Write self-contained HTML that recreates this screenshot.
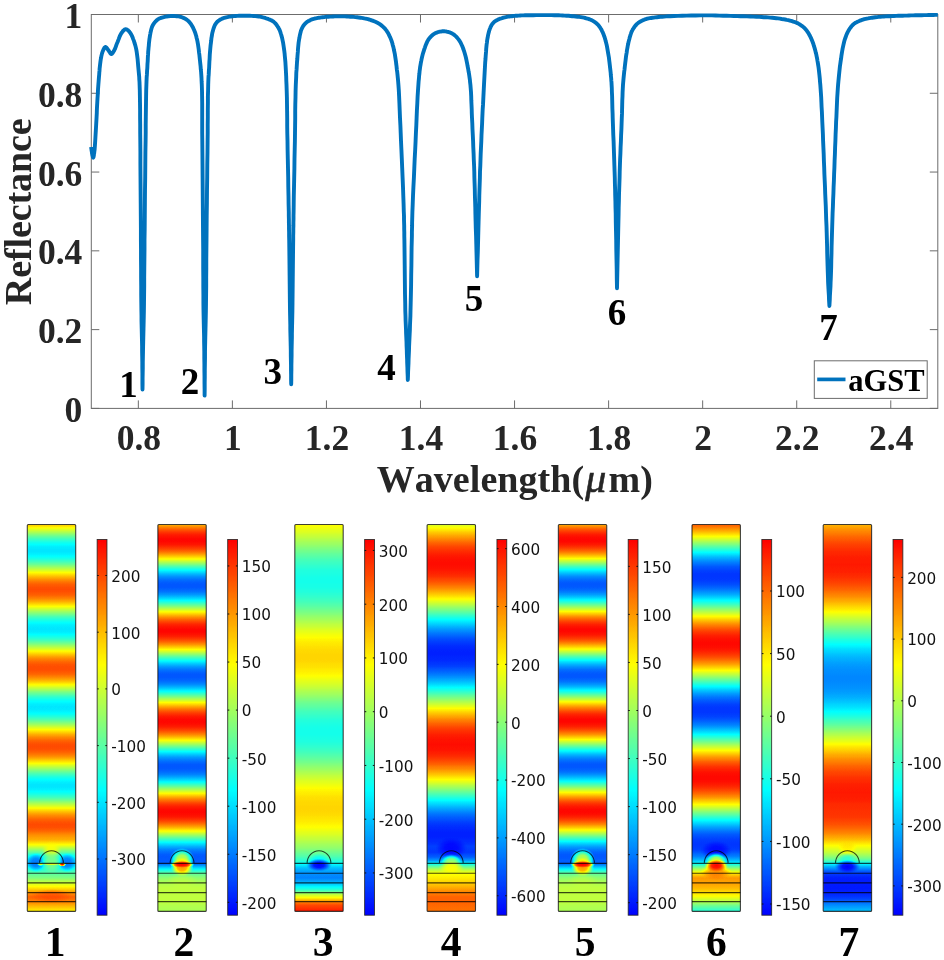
<!DOCTYPE html>
<html lang="en"><head><meta charset="utf-8"><title>Reflectance spectrum and field maps</title>
<style>
html,body{margin:0;padding:0;background:#fff;}
svg{display:block;}
text{font-family:"Liberation Serif","DejaVu Serif",serif;font-weight:bold;fill:#262626;}
.tk{font-size:35.5px;}
.lab{font-size:38px;font-kerning:none;}
.xl{letter-spacing:0.05px;}
.yl{letter-spacing:-0.1px;}
.num{font-size:37px;fill:#000;}
.pn{font-size:41.5px;fill:#000;}
.cb{font-family:"DejaVu Sans","Liberation Sans",sans-serif;font-weight:normal;font-size:15.25px;fill:#111;}
</style></head><body>
<svg width="944" height="960" viewBox="0 0 944 960">
<defs>
<filter id="jet" color-interpolation-filters="sRGB" x="-2%" y="-2%" width="104%" height="104%">
<feComponentTransfer>
<feFuncR type="table" tableValues="0 0 1 1"/>
<feFuncG type="table" tableValues="0 1 1 0"/>
<feFuncB type="table" tableValues="1 1 0 0"/>
</feComponentTransfer>
</filter>
<linearGradient id="cbg" x1="0" y1="0" x2="0" y2="1"><stop offset="0" stop-color="#fff"/><stop offset="1" stop-color="#000"/></linearGradient>
</defs>
<rect width="944" height="960" fill="#fff"/>
<g id="plot">
<path d="M138.33 408.40 v-8.0 M138.33 14.50 v8.0 M232.38 408.40 v-8.0 M232.38 14.50 v8.0 M326.44 408.40 v-8.0 M326.44 14.50 v8.0 M420.49 408.40 v-8.0 M420.49 14.50 v8.0 M514.55 408.40 v-8.0 M514.55 14.50 v8.0 M608.61 408.40 v-8.0 M608.61 14.50 v8.0 M702.66 408.40 v-8.0 M702.66 14.50 v8.0 M796.72 408.40 v-8.0 M796.72 14.50 v8.0 M890.77 408.40 v-8.0 M890.77 14.50 v8.0 M91.30 408.40 h8.0 M937.80 408.40 h-8.0 M91.30 329.62 h8.0 M937.80 329.62 h-8.0 M91.30 250.84 h8.0 M937.80 250.84 h-8.0 M91.30 172.06 h8.0 M937.80 172.06 h-8.0 M91.30 93.28 h8.0 M937.80 93.28 h-8.0 M91.30 14.50 h8.0 M937.80 14.50 h-8.0" stroke="#6c6c6c" stroke-width="1" fill="none"/>
<rect x="91.30" y="14.50" width="846.50" height="393.90" fill="none" stroke="#6c6c6c" stroke-width="1"/>
<text class="tk" x="138.83" y="449.9" text-anchor="middle">0.8</text>
<text class="tk" x="232.88" y="449.9" text-anchor="middle">1</text>
<text class="tk" x="326.94" y="449.9" text-anchor="middle">1.2</text>
<text class="tk" x="420.99" y="449.9" text-anchor="middle">1.4</text>
<text class="tk" x="515.05" y="449.9" text-anchor="middle">1.6</text>
<text class="tk" x="609.11" y="449.9" text-anchor="middle">1.8</text>
<text class="tk" x="703.16" y="449.9" text-anchor="middle">2</text>
<text class="tk" x="797.22" y="449.9" text-anchor="middle">2.2</text>
<text class="tk" x="891.27" y="449.9" text-anchor="middle">2.4</text>
<text class="tk" x="82.3" y="422.00" text-anchor="end">0</text>
<text class="tk" x="82.3" y="343.22" text-anchor="end">0.2</text>
<text class="tk" x="82.3" y="264.44" text-anchor="end">0.4</text>
<text class="tk" x="82.3" y="185.66" text-anchor="end">0.6</text>
<text class="tk" x="82.3" y="106.88" text-anchor="end">0.8</text>
<text class="tk" x="82.3" y="28.10" text-anchor="end">1</text>
<text class="lab xl" x="514.8" y="491.8" text-anchor="middle">Wavelength(<tspan font-style="italic" font-weight="normal" font-size="42" stroke="#262626" stroke-width="0.55" dx="1.2">μ</tspan><tspan dx="2">m)</tspan></text>
<text class="lab yl" transform="translate(30.8 211.8) rotate(-90)" text-anchor="middle">Reflectance</text>
<path d="M91.1 147.0 L91.2 147.9 L91.4 148.8 L91.5 149.7 L91.6 150.6 L91.8 151.5 L91.9 152.4 L92.0 153.2 L92.2 154.0 L92.3 154.6 L92.4 155.2 L92.6 155.8 L92.7 156.3 L92.8 156.8 L93.0 157.2 L93.1 157.5 L93.2 157.6 L93.3 157.5 L93.5 157.1 L93.6 156.5 L93.8 155.7 L93.9 154.9 L94.0 153.9 L94.2 153.0 L94.3 152.0 L94.6 149.8 L94.8 147.1 L95.0 144.2 L95.2 141.0 L95.4 137.6 L95.6 134.2 L95.8 130.8 L96.0 127.5 L96.2 123.9 L96.4 120.3 L96.6 116.6 L96.8 112.8 L96.9 109.1 L97.1 105.4 L97.3 101.8 L97.5 98.3 L97.7 95.4 L97.9 92.5 L98.0 89.7 L98.2 86.9 L98.4 84.2 L98.6 81.6 L98.8 79.0 L99.0 76.5 L99.2 74.5 L99.3 72.6 L99.5 70.7 L99.6 68.8 L99.8 67.0 L100.0 65.3 L100.2 63.6 L100.4 61.9 L100.6 60.5 L100.8 59.1 L101.1 57.7 L101.3 56.4 L101.6 55.1 L101.9 53.9 L102.2 52.8 L102.6 51.7 L102.9 50.9 L103.2 50.2 L103.6 49.4 L103.9 48.7 L104.3 48.0 L104.6 47.5 L105.0 47.2 L105.4 47.0 L105.8 47.1 L106.1 47.3 L106.5 47.7 L106.9 48.1 L107.3 48.7 L107.7 49.2 L108.0 49.7 L108.4 50.2 L108.8 50.7 L109.1 51.3 L109.5 51.9 L109.9 52.5 L110.2 53.1 L110.6 53.6 L110.9 53.9 L111.3 54.0 L111.7 53.9 L112.1 53.6 L112.4 53.2 L112.8 52.7 L113.2 52.1 L113.6 51.4 L114.0 50.8 L114.3 50.2 L114.7 49.4 L115.1 48.6 L115.4 47.7 L115.8 46.8 L116.1 45.8 L116.4 44.9 L116.8 43.9 L117.2 42.9 L117.7 41.7 L118.2 40.4 L118.7 39.1 L119.2 37.7 L119.7 36.4 L120.3 35.1 L120.9 34.0 L121.5 33.0 L122.0 32.3 L122.5 31.7 L123.0 31.0 L123.5 30.5 L124.1 30.0 L124.6 29.6 L125.2 29.3 L125.7 29.2 L126.2 29.3 L126.8 29.4 L127.3 29.8 L127.9 30.2 L128.4 30.7 L129.0 31.2 L129.5 31.9 L130.0 32.5 L130.8 33.8 L131.7 35.4 L132.5 37.1 L133.2 39.1 L134.0 41.1 L134.6 43.2 L135.3 45.4 L135.8 47.4 L136.3 49.6 L136.7 51.9 L137.0 54.2 L137.3 56.5 L137.6 58.9 L137.8 61.3 L138.0 63.7 L138.2 66.0 L138.4 68.3 L138.6 70.4 L138.8 72.6 L139.0 74.7 L139.2 76.9 L139.3 79.3 L139.5 81.9 L139.6 84.7 L139.8 90.2 L139.9 96.2 L140.0 102.8 L140.1 109.9 L140.1 117.3 L140.2 125.0 L140.2 132.8 L140.3 140.8 L140.4 152.0 L140.4 164.0 L140.5 176.7 L140.6 189.7 L140.7 202.8 L140.8 215.7 L140.9 228.2 L140.9 240.0 L141.0 249.6 L141.0 259.1 L141.1 268.5 L141.1 277.7 L141.2 286.6 L141.2 295.1 L141.3 303.2 L141.4 310.8 L141.5 315.8 L141.5 320.4 L141.6 324.8 L141.7 329.0 L141.8 333.2 L141.9 337.4 L142.0 341.7 L142.1 346.2 L142.1 351.4 L142.2 356.7 L142.3 362.1 L142.3 367.6 L142.4 373.1 L142.4 378.6 L142.4 384.1 L142.5 389.5 L142.6 384.1 L142.6 378.6 L142.7 373.1 L142.8 367.6 L142.8 362.1 L142.9 356.7 L143.0 351.4 L143.1 346.2 L143.2 341.7 L143.3 337.4 L143.4 333.2 L143.5 329.0 L143.6 324.8 L143.7 320.4 L143.8 315.8 L143.9 310.8 L144.0 303.2 L144.1 295.1 L144.2 286.6 L144.2 277.7 L144.3 268.5 L144.4 259.1 L144.5 249.6 L144.5 240.0 L144.7 228.2 L144.8 215.7 L144.9 202.8 L145.0 189.7 L145.2 176.7 L145.3 164.0 L145.4 152.0 L145.6 140.8 L145.7 132.8 L145.7 125.0 L145.8 117.3 L145.9 109.9 L146.0 102.8 L146.1 96.2 L146.2 90.2 L146.4 84.7 L146.5 81.9 L146.6 79.3 L146.7 76.9 L146.9 74.7 L147.0 72.6 L147.1 70.4 L147.3 68.3 L147.4 66.0 L147.5 63.7 L147.7 61.3 L147.8 58.9 L147.9 56.5 L148.1 54.2 L148.2 51.8 L148.4 49.6 L148.6 47.4 L148.8 45.6 L148.9 43.8 L149.1 42.0 L149.3 40.3 L149.5 38.6 L149.8 36.9 L150.0 35.3 L150.3 33.8 L150.5 32.6 L150.8 31.5 L151.0 30.4 L151.3 29.3 L151.6 28.2 L151.9 27.2 L152.3 26.2 L152.8 25.3 L153.3 24.4 L153.8 23.6 L154.4 22.8 L155.1 22.0 L155.7 21.3 L156.4 20.6 L157.1 20.0 L157.9 19.4 L158.7 18.9 L159.4 18.5 L160.3 18.2 L161.1 17.9 L162.0 17.6 L162.9 17.3 L163.8 17.1 L164.7 16.9 L165.7 16.7 L166.7 16.5 L167.8 16.3 L168.8 16.2 L169.9 16.1 L171.0 16.0 L172.0 16.0 L173.1 16.0 L174.2 16.0 L175.3 16.1 L176.3 16.2 L177.4 16.3 L178.5 16.4 L179.6 16.6 L180.6 16.9 L181.6 17.2 L182.5 17.5 L183.4 17.9 L184.3 18.3 L185.2 18.8 L186.1 19.3 L186.9 19.9 L187.7 20.4 L188.4 21.1 L189.2 21.9 L189.9 22.7 L190.6 23.6 L191.2 24.6 L191.8 25.6 L192.4 26.6 L193.0 27.6 L193.5 28.7 L194.0 29.8 L194.5 31.0 L195.0 32.2 L195.4 33.4 L195.8 34.7 L196.2 36.0 L196.5 37.4 L196.9 38.9 L197.4 41.2 L197.9 43.8 L198.3 46.5 L198.7 49.3 L199.0 52.2 L199.4 55.1 L199.7 58.0 L200.0 60.9 L200.3 63.8 L200.6 66.5 L200.8 69.3 L201.1 72.1 L201.3 75.0 L201.5 78.0 L201.6 81.2 L201.8 84.7 L202.0 90.5 L202.1 96.7 L202.2 103.3 L202.2 110.3 L202.2 117.6 L202.2 125.1 L202.2 132.9 L202.3 140.8 L202.4 152.0 L202.5 164.0 L202.6 176.7 L202.7 189.7 L202.8 202.8 L202.9 215.7 L203.0 228.2 L203.1 240.0 L203.2 249.6 L203.2 259.1 L203.2 268.5 L203.3 277.7 L203.3 286.6 L203.4 295.1 L203.4 303.2 L203.5 310.8 L203.6 315.8 L203.7 320.4 L203.8 324.7 L203.9 328.9 L204.0 333.0 L204.1 337.2 L204.1 341.6 L204.2 346.2 L204.3 352.0 L204.3 358.0 L204.4 364.1 L204.4 370.4 L204.5 376.7 L204.5 383.1 L204.6 389.4 L204.6 395.6 L204.7 389.4 L204.7 383.1 L204.8 376.7 L204.8 370.4 L204.9 364.1 L205.0 358.0 L205.0 352.0 L205.1 346.2 L205.2 341.6 L205.3 337.2 L205.4 333.0 L205.5 328.9 L205.6 324.7 L205.7 320.4 L205.8 315.8 L205.9 310.8 L206.0 303.2 L206.1 295.1 L206.2 286.6 L206.2 277.7 L206.3 268.5 L206.3 259.1 L206.4 249.6 L206.5 240.0 L206.6 228.2 L206.7 215.7 L206.9 202.8 L207.0 189.7 L207.2 176.7 L207.3 164.0 L207.5 152.0 L207.6 140.8 L207.7 132.8 L207.7 125.0 L207.8 117.3 L207.8 109.9 L207.9 102.8 L207.9 96.2 L208.1 90.2 L208.2 84.7 L208.3 81.9 L208.4 79.3 L208.5 76.9 L208.7 74.7 L208.8 72.6 L208.9 70.4 L209.1 68.3 L209.2 66.0 L209.3 63.7 L209.4 61.3 L209.6 59.0 L209.7 56.6 L209.8 54.3 L210.0 52.0 L210.2 49.7 L210.4 47.4 L210.6 45.2 L210.9 42.9 L211.2 40.6 L211.4 38.4 L211.8 36.2 L212.1 34.1 L212.5 32.2 L213.0 30.4 L213.3 29.3 L213.7 28.2 L214.0 27.2 L214.4 26.2 L214.8 25.3 L215.3 24.4 L215.8 23.6 L216.4 22.8 L217.0 22.1 L217.6 21.5 L218.3 20.9 L219.1 20.4 L219.8 19.9 L220.6 19.4 L221.5 19.0 L222.3 18.6 L223.2 18.2 L224.2 17.9 L225.2 17.6 L226.3 17.3 L227.4 17.1 L228.5 16.9 L229.6 16.7 L230.8 16.5 L232.3 16.3 L233.9 16.1 L235.6 16.0 L237.3 15.9 L239.1 15.8 L240.8 15.7 L242.6 15.7 L244.3 15.7 L246.1 15.7 L247.9 15.7 L249.8 15.8 L251.7 15.9 L253.5 16.0 L255.3 16.1 L257.0 16.3 L258.6 16.5 L259.8 16.7 L260.9 16.9 L262.0 17.1 L263.0 17.4 L264.0 17.6 L265.0 17.9 L266.0 18.3 L267.0 18.6 L267.9 18.9 L268.8 19.3 L269.7 19.6 L270.6 20.0 L271.4 20.4 L272.3 20.8 L273.0 21.3 L273.8 21.9 L274.6 22.6 L275.3 23.3 L276.0 24.1 L276.6 25.0 L277.2 25.8 L277.8 26.8 L278.4 27.7 L278.9 28.7 L279.5 29.8 L280.0 31.0 L280.4 32.2 L280.8 33.5 L281.2 34.7 L281.6 36.1 L282.0 37.5 L282.3 38.9 L282.7 40.8 L283.1 42.7 L283.4 44.7 L283.7 46.8 L284.0 48.9 L284.3 51.1 L284.6 53.4 L284.8 55.8 L285.1 59.0 L285.4 62.3 L285.6 65.6 L285.8 69.2 L286.0 72.8 L286.2 76.6 L286.3 80.6 L286.5 84.7 L286.7 90.8 L286.9 97.3 L287.0 104.1 L287.1 111.2 L287.2 118.5 L287.2 125.9 L287.3 133.3 L287.5 140.8 L287.6 149.5 L287.8 158.7 L288.0 168.2 L288.2 177.7 L288.3 187.1 L288.5 196.0 L288.6 204.3 L288.8 211.7 L288.8 215.8 L288.9 219.4 L288.9 222.7 L289.0 225.9 L289.0 229.0 L289.1 232.3 L289.1 235.9 L289.2 240.0 L289.3 247.5 L289.4 256.0 L289.5 265.3 L289.6 274.9 L289.7 284.6 L289.8 294.1 L289.9 302.9 L290.0 310.8 L290.1 315.8 L290.2 320.5 L290.3 324.9 L290.3 329.2 L290.4 333.4 L290.5 337.5 L290.6 341.8 L290.7 346.2 L290.8 350.9 L290.8 355.6 L290.9 360.4 L291.0 365.2 L291.0 370.0 L291.1 374.7 L291.1 379.5 L291.2 384.3 L291.3 379.5 L291.3 374.7 L291.4 370.0 L291.4 365.2 L291.5 360.4 L291.6 355.6 L291.6 350.9 L291.7 346.2 L291.8 341.8 L291.9 337.5 L291.9 333.4 L292.0 329.2 L292.1 324.9 L292.2 320.5 L292.3 315.8 L292.4 310.8 L292.5 302.9 L292.6 294.1 L292.7 284.6 L292.8 274.9 L292.9 265.3 L293.0 256.0 L293.1 247.5 L293.2 240.0 L293.2 235.9 L293.3 232.3 L293.3 229.0 L293.4 225.9 L293.4 222.7 L293.5 219.4 L293.5 215.8 L293.6 211.7 L293.7 204.3 L293.8 196.0 L294.0 187.1 L294.2 177.7 L294.4 168.2 L294.5 158.7 L294.7 149.5 L294.9 140.8 L295.0 133.3 L295.1 125.9 L295.2 118.5 L295.2 111.2 L295.3 104.1 L295.5 97.3 L295.6 90.8 L295.8 84.7 L296.0 80.6 L296.2 76.6 L296.3 72.8 L296.6 69.2 L296.8 65.7 L297.0 62.3 L297.3 59.0 L297.5 55.8 L297.7 53.4 L297.9 51.2 L298.0 48.9 L298.2 46.8 L298.4 44.7 L298.6 42.7 L298.9 40.8 L299.2 38.9 L299.5 37.5 L299.7 36.1 L300.0 34.7 L300.3 33.4 L300.6 32.2 L300.9 30.9 L301.3 29.8 L301.8 28.7 L302.2 27.8 L302.7 27.0 L303.1 26.2 L303.6 25.5 L304.2 24.7 L304.7 24.1 L305.4 23.4 L306.0 22.8 L306.7 22.2 L307.5 21.7 L308.3 21.1 L309.2 20.7 L310.1 20.2 L311.0 19.8 L311.9 19.4 L312.8 19.1 L313.8 18.8 L314.8 18.5 L315.8 18.3 L316.9 18.1 L317.9 17.9 L319.0 17.7 L320.2 17.6 L321.3 17.4 L322.7 17.2 L324.1 17.1 L325.5 16.9 L327.0 16.8 L328.5 16.7 L330.0 16.6 L331.6 16.6 L333.1 16.5 L334.8 16.4 L336.4 16.4 L338.1 16.4 L339.8 16.4 L341.6 16.4 L343.3 16.4 L345.0 16.4 L346.7 16.5 L348.4 16.6 L350.2 16.7 L351.9 16.8 L353.6 16.9 L355.4 17.1 L357.1 17.3 L358.7 17.5 L360.3 17.7 L361.6 17.9 L363.0 18.1 L364.3 18.4 L365.5 18.6 L366.8 18.9 L368.0 19.2 L369.2 19.5 L370.4 19.9 L371.5 20.3 L372.6 20.7 L373.7 21.1 L374.8 21.5 L375.9 22.0 L376.9 22.5 L377.9 23.0 L378.9 23.6 L379.8 24.2 L380.8 24.9 L381.7 25.6 L382.5 26.3 L383.4 27.1 L384.2 27.9 L385.0 28.7 L385.7 29.6 L386.5 30.6 L387.2 31.7 L387.9 32.8 L388.5 33.9 L389.1 35.1 L389.7 36.4 L390.3 37.6 L390.8 38.9 L391.4 40.4 L391.9 41.9 L392.4 43.5 L392.8 45.2 L393.3 46.9 L393.7 48.6 L394.0 50.3 L394.4 52.0 L394.8 53.9 L395.1 55.9 L395.4 57.9 L395.7 59.9 L396.0 61.9 L396.2 63.9 L396.5 66.0 L396.7 68.0 L396.9 70.0 L397.2 71.9 L397.4 73.8 L397.6 75.7 L397.8 77.7 L398.0 79.8 L398.2 82.1 L398.4 84.7 L398.8 90.1 L399.1 96.2 L399.4 103.0 L399.7 110.3 L400.0 117.8 L400.4 125.5 L400.7 133.2 L401.0 140.8 L401.4 149.5 L401.8 158.7 L402.2 168.2 L402.6 177.7 L403.0 187.1 L403.3 196.0 L403.6 204.3 L403.8 211.7 L404.0 215.8 L404.0 219.4 L404.1 222.7 L404.2 225.9 L404.2 229.0 L404.3 232.3 L404.3 235.9 L404.4 240.0 L404.5 247.5 L404.6 256.0 L404.7 265.3 L404.8 274.9 L404.9 284.6 L405.0 294.1 L405.2 302.9 L405.3 310.8 L405.5 315.8 L405.6 320.5 L405.8 325.0 L406.0 329.3 L406.1 333.5 L406.3 337.7 L406.5 341.9 L406.6 346.2 L406.8 350.5 L406.9 354.7 L407.1 358.9 L407.2 363.1 L407.4 367.4 L407.5 371.6 L407.7 375.8 L407.8 380.0 L408.0 375.8 L408.1 371.6 L408.3 367.4 L408.5 363.1 L408.6 358.9 L408.8 354.7 L409.0 350.5 L409.1 346.2 L409.3 341.9 L409.5 337.7 L409.7 333.5 L409.9 329.3 L410.0 325.0 L410.2 320.5 L410.4 315.8 L410.5 310.8 L410.7 302.9 L410.9 294.1 L411.1 284.6 L411.2 274.9 L411.4 265.3 L411.5 256.0 L411.6 247.5 L411.8 240.0 L411.9 235.9 L411.9 232.3 L412.0 229.0 L412.1 225.9 L412.1 222.7 L412.2 219.4 L412.3 215.8 L412.4 211.7 L412.7 204.3 L413.0 196.0 L413.4 187.1 L413.9 177.7 L414.3 168.2 L414.7 158.7 L415.2 149.5 L415.6 140.8 L415.9 133.3 L416.3 125.7 L416.6 118.1 L416.9 110.6 L417.3 103.4 L417.6 96.6 L418.0 90.3 L418.4 84.7 L418.6 81.6 L418.9 78.8 L419.1 76.1 L419.4 73.6 L419.6 71.2 L419.9 68.9 L420.2 66.6 L420.6 64.3 L420.9 62.5 L421.3 60.7 L421.6 59.0 L422.0 57.3 L422.4 55.6 L422.8 54.0 L423.3 52.4 L423.8 50.8 L424.3 49.2 L424.9 47.6 L425.4 46.0 L426.0 44.5 L426.7 42.9 L427.3 41.5 L428.1 40.1 L428.9 38.9 L429.6 38.0 L430.4 37.1 L431.2 36.2 L432.0 35.5 L432.9 34.7 L433.8 34.1 L434.7 33.5 L435.7 33.0 L436.7 32.6 L437.7 32.2 L438.8 31.9 L439.8 31.6 L440.9 31.5 L442.0 31.3 L443.1 31.3 L444.2 31.3 L445.3 31.4 L446.4 31.5 L447.4 31.8 L448.5 32.0 L449.6 32.4 L450.6 32.8 L451.6 33.3 L452.6 33.8 L453.6 34.4 L454.5 35.1 L455.4 35.9 L456.3 36.7 L457.1 37.6 L457.9 38.6 L458.7 39.6 L459.4 40.6 L460.2 41.9 L460.9 43.2 L461.6 44.7 L462.3 46.2 L462.9 47.7 L463.4 49.3 L464.0 50.9 L464.5 52.5 L465.0 54.3 L465.5 56.1 L466.0 58.0 L466.4 59.9 L466.8 61.8 L467.2 63.8 L467.5 65.7 L467.9 67.7 L468.3 69.7 L468.6 71.7 L469.0 73.7 L469.3 75.8 L469.6 77.9 L469.9 80.0 L470.1 82.3 L470.4 84.7 L470.7 88.3 L471.0 92.1 L471.2 96.1 L471.3 100.2 L471.5 104.5 L471.7 108.9 L471.8 113.4 L472.0 117.9 L472.3 123.5 L472.5 129.3 L472.8 135.2 L473.1 141.3 L473.3 147.5 L473.6 153.6 L473.8 159.8 L474.1 165.8 L474.3 171.7 L474.4 177.6 L474.6 183.5 L474.8 189.3 L474.9 195.3 L475.1 201.3 L475.3 207.4 L475.4 213.7 L475.6 221.1 L475.8 228.8 L476.1 236.6 L476.3 244.5 L476.5 252.5 L476.7 260.5 L476.9 268.4 L477.1 276.3 L477.3 268.4 L477.5 260.5 L477.8 252.5 L478.0 244.5 L478.2 236.6 L478.4 228.8 L478.6 221.1 L478.8 213.7 L479.0 207.4 L479.2 201.3 L479.3 195.3 L479.5 189.3 L479.7 183.5 L479.9 177.6 L480.0 171.7 L480.3 165.8 L480.5 159.8 L480.7 153.6 L481.0 147.5 L481.3 141.3 L481.5 135.2 L481.8 129.3 L482.1 123.5 L482.3 117.9 L482.5 113.4 L482.7 109.1 L483.0 104.9 L483.2 100.8 L483.4 96.7 L483.6 92.7 L483.8 88.7 L484.0 84.7 L484.2 80.9 L484.4 77.2 L484.6 73.4 L484.8 69.6 L485.0 66.0 L485.2 62.4 L485.5 59.0 L485.7 55.8 L485.9 53.4 L486.1 51.2 L486.2 48.9 L486.4 46.8 L486.6 44.7 L486.9 42.7 L487.1 40.8 L487.4 38.9 L487.7 37.5 L487.9 36.1 L488.2 34.7 L488.5 33.4 L488.8 32.2 L489.1 31.0 L489.5 29.8 L489.9 28.7 L490.3 27.8 L490.6 27.0 L491.0 26.2 L491.4 25.5 L491.8 24.7 L492.3 24.1 L492.8 23.4 L493.3 22.8 L493.8 22.3 L494.4 21.8 L495.0 21.3 L495.6 20.9 L496.3 20.5 L497.0 20.1 L497.7 19.8 L498.4 19.4 L499.3 19.0 L500.3 18.6 L501.4 18.3 L502.4 18.0 L503.5 17.7 L504.7 17.4 L505.8 17.1 L506.9 16.9 L508.1 16.7 L509.3 16.5 L510.5 16.3 L511.8 16.2 L513.1 16.0 L514.3 15.9 L515.7 15.8 L517.0 15.7 L518.6 15.6 L520.2 15.5 L521.8 15.4 L523.4 15.4 L525.1 15.3 L526.9 15.3 L528.7 15.2 L530.6 15.2 L533.3 15.2 L536.2 15.1 L539.2 15.1 L542.3 15.1 L545.5 15.1 L548.5 15.1 L551.5 15.1 L554.3 15.2 L556.5 15.3 L558.6 15.3 L560.6 15.4 L562.6 15.5 L564.6 15.6 L566.5 15.7 L568.5 15.8 L570.4 16.0 L572.2 16.2 L574.0 16.3 L575.7 16.5 L577.5 16.7 L579.2 16.9 L580.9 17.1 L582.5 17.4 L584.0 17.7 L585.2 18.0 L586.3 18.3 L587.4 18.6 L588.5 18.9 L589.6 19.3 L590.6 19.7 L591.6 20.1 L592.5 20.6 L593.3 21.1 L594.1 21.6 L594.9 22.1 L595.7 22.7 L596.4 23.3 L597.1 23.9 L597.8 24.6 L598.4 25.3 L599.0 26.0 L599.6 26.8 L600.2 27.6 L600.7 28.5 L601.2 29.3 L601.7 30.2 L602.1 31.1 L602.6 32.1 L603.1 33.2 L603.6 34.4 L604.0 35.7 L604.5 36.9 L604.9 38.2 L605.3 39.6 L605.6 40.9 L606.0 42.3 L606.4 43.9 L606.8 45.5 L607.1 47.2 L607.4 48.9 L607.7 50.6 L608.0 52.4 L608.3 54.1 L608.6 55.8 L608.9 57.5 L609.1 59.2 L609.3 60.9 L609.5 62.5 L609.7 64.2 L609.9 65.9 L610.1 67.7 L610.3 69.4 L610.5 71.2 L610.7 73.0 L610.8 74.8 L611.0 76.6 L611.2 78.5 L611.3 80.4 L611.5 82.5 L611.6 84.7 L611.8 88.2 L611.9 92.0 L612.1 96.0 L612.2 100.1 L612.3 104.4 L612.4 108.9 L612.6 113.4 L612.7 117.9 L612.9 123.5 L613.1 129.3 L613.3 135.2 L613.6 141.3 L613.8 147.5 L614.0 153.6 L614.2 159.8 L614.4 165.8 L614.6 171.7 L614.8 177.5 L614.9 183.3 L615.1 189.1 L615.2 195.0 L615.4 201.0 L615.5 207.2 L615.7 213.7 L615.8 222.2 L616.0 231.2 L616.2 240.4 L616.3 249.9 L616.5 259.5 L616.7 269.2 L616.8 278.8 L617.0 288.2 L617.2 278.8 L617.4 269.2 L617.6 259.5 L617.8 249.9 L618.0 240.4 L618.2 231.2 L618.4 222.2 L618.6 213.7 L618.7 207.2 L618.9 201.0 L619.0 195.0 L619.2 189.1 L619.4 183.3 L619.6 177.5 L619.7 171.7 L619.9 165.8 L620.1 159.8 L620.4 153.6 L620.6 147.5 L620.9 141.3 L621.1 135.2 L621.4 129.3 L621.6 123.5 L621.8 117.9 L622.0 113.4 L622.1 108.9 L622.2 104.5 L622.3 100.2 L622.5 96.1 L622.6 92.1 L622.8 88.3 L623.0 84.7 L623.2 82.3 L623.4 80.0 L623.6 77.8 L623.8 75.7 L624.0 73.7 L624.2 71.7 L624.5 69.7 L624.7 67.7 L624.9 65.9 L625.1 64.2 L625.3 62.5 L625.5 60.9 L625.7 59.2 L625.9 57.5 L626.1 55.9 L626.4 54.2 L626.7 52.5 L626.9 50.7 L627.2 49.0 L627.5 47.3 L627.8 45.5 L628.2 43.8 L628.5 42.2 L628.9 40.6 L629.3 39.2 L629.6 37.9 L630.0 36.5 L630.4 35.2 L630.8 34.0 L631.2 32.7 L631.7 31.5 L632.3 30.4 L632.8 29.4 L633.4 28.5 L634.0 27.6 L634.6 26.7 L635.2 25.9 L635.9 25.1 L636.6 24.3 L637.4 23.6 L638.2 22.9 L639.1 22.3 L640.0 21.7 L640.9 21.2 L641.9 20.7 L642.9 20.2 L644.0 19.8 L645.0 19.4 L646.2 19.0 L647.4 18.7 L648.6 18.4 L649.8 18.2 L651.1 18.0 L652.5 17.8 L653.8 17.6 L655.2 17.4 L656.9 17.2 L658.6 17.0 L660.4 16.8 L662.2 16.7 L664.1 16.6 L666.1 16.4 L668.2 16.3 L670.4 16.2 L674.0 16.0 L678.0 15.9 L682.2 15.7 L686.7 15.6 L691.2 15.5 L695.7 15.5 L700.1 15.4 L704.3 15.4 L708.1 15.4 L711.9 15.4 L715.6 15.5 L719.4 15.6 L723.1 15.7 L726.7 15.8 L730.3 15.9 L733.9 16.0 L737.2 16.1 L740.5 16.2 L743.8 16.3 L747.0 16.4 L750.2 16.5 L753.4 16.6 L756.4 16.7 L759.3 16.9 L761.6 17.0 L763.8 17.2 L766.0 17.3 L768.1 17.4 L770.2 17.6 L772.3 17.8 L774.3 18.0 L776.3 18.2 L778.1 18.4 L779.9 18.7 L781.6 19.0 L783.4 19.2 L785.1 19.5 L786.7 19.9 L788.3 20.2 L789.8 20.6 L791.0 20.9 L792.1 21.2 L793.2 21.6 L794.3 21.9 L795.3 22.3 L796.3 22.7 L797.3 23.1 L798.3 23.6 L799.2 24.1 L800.1 24.7 L801.0 25.3 L801.9 25.9 L802.7 26.5 L803.6 27.2 L804.3 27.9 L805.1 28.7 L805.8 29.5 L806.5 30.4 L807.2 31.3 L807.9 32.3 L808.5 33.3 L809.1 34.3 L809.6 35.3 L810.2 36.4 L810.8 37.6 L811.4 38.9 L811.9 40.3 L812.5 41.6 L813.0 43.0 L813.5 44.4 L813.9 45.9 L814.4 47.4 L814.9 49.1 L815.4 50.9 L815.8 52.8 L816.3 54.6 L816.7 56.6 L817.1 58.5 L817.4 60.5 L817.8 62.6 L818.2 65.1 L818.6 67.7 L818.9 70.3 L819.2 73.0 L819.5 75.8 L819.8 78.7 L820.0 81.6 L820.3 84.7 L820.6 88.9 L820.9 93.2 L821.2 97.7 L821.4 102.3 L821.6 107.1 L821.9 112.0 L822.1 117.0 L822.3 122.0 L822.6 128.1 L822.9 134.4 L823.1 140.9 L823.4 147.6 L823.7 154.2 L823.9 161.0 L824.2 167.6 L824.4 174.2 L824.7 180.7 L825.0 187.2 L825.2 193.7 L825.5 200.2 L825.8 206.7 L826.0 213.2 L826.2 219.7 L826.5 226.2 L826.7 232.8 L826.9 239.6 L827.1 246.5 L827.2 253.3 L827.4 260.0 L827.6 266.4 L827.8 272.6 L828.0 278.3 L828.1 282.2 L828.3 285.8 L828.5 289.3 L828.7 292.7 L828.9 296.0 L829.0 299.3 L829.2 302.6 L829.4 306.0 L829.6 302.6 L829.8 299.3 L829.9 296.0 L830.1 292.7 L830.3 289.3 L830.5 285.8 L830.6 282.2 L830.8 278.3 L831.0 272.6 L831.2 266.4 L831.3 260.0 L831.5 253.3 L831.6 246.5 L831.8 239.6 L832.0 232.8 L832.2 226.2 L832.4 219.7 L832.6 213.2 L832.9 206.7 L833.1 200.2 L833.4 193.7 L833.6 187.2 L833.9 180.7 L834.1 174.2 L834.4 167.6 L834.6 161.0 L834.9 154.2 L835.1 147.6 L835.4 140.9 L835.6 134.4 L835.9 128.1 L836.1 122.0 L836.4 117.0 L836.6 112.0 L836.8 107.2 L837.0 102.4 L837.2 97.8 L837.5 93.3 L837.8 88.9 L838.1 84.7 L838.4 81.4 L838.7 78.3 L839.0 75.3 L839.3 72.3 L839.6 69.4 L839.9 66.5 L840.3 63.7 L840.7 60.9 L841.1 58.4 L841.4 55.9 L841.8 53.4 L842.2 51.0 L842.6 48.6 L843.1 46.3 L843.6 44.1 L844.1 42.0 L844.5 40.4 L845.0 38.9 L845.5 37.5 L846.0 36.1 L846.5 34.7 L847.1 33.4 L847.7 32.2 L848.3 31.0 L848.9 30.0 L849.5 29.0 L850.1 28.1 L850.8 27.2 L851.5 26.3 L852.2 25.5 L853.0 24.7 L853.8 24.0 L854.7 23.3 L855.6 22.7 L856.6 22.2 L857.7 21.6 L858.7 21.2 L859.8 20.7 L860.9 20.3 L862.0 19.9 L863.2 19.5 L864.4 19.2 L865.6 18.9 L866.9 18.6 L868.1 18.4 L869.4 18.1 L870.8 17.9 L872.1 17.7 L873.7 17.5 L875.3 17.3 L877.0 17.1 L878.7 16.9 L880.4 16.8 L882.1 16.6 L883.9 16.5 L885.7 16.4 L887.7 16.3 L889.8 16.2 L891.9 16.1 L894.0 16.0 L896.2 15.9 L898.3 15.8 L900.5 15.8 L902.6 15.7 L904.7 15.6 L906.8 15.6 L908.9 15.5 L911.1 15.4 L913.2 15.4 L915.3 15.3 L917.4 15.3 L919.6 15.2 L921.8 15.2 L924.1 15.1 L926.4 15.1 L928.7 15.0 L930.9 15.0 L933.2 15.0 L935.5 14.9 L937.8 14.9" fill="none" stroke="#0072BD" stroke-width="3.9" stroke-linejoin="round" stroke-linecap="butt"/>
<text class="num" x="128.4" y="397.4" text-anchor="middle">1</text>
<text class="num" x="190.0" y="394.0" text-anchor="middle">2</text>
<text class="num" x="272.8" y="383.8" text-anchor="middle">3</text>
<text class="num" x="386.4" y="379.8" text-anchor="middle">4</text>
<text class="num" x="474.0" y="311.3" text-anchor="middle">5</text>
<text class="num" x="616.9" y="325.4" text-anchor="middle">6</text>
<text class="num" x="828.4" y="340.0" text-anchor="middle">7</text>
<rect x="814.3" y="360.8" width="112.9" height="37.6" fill="#fff" stroke="#6c6c6c" stroke-width="1"/>
<path d="M817.2 379.4H845.5" stroke="#0072BD" stroke-width="3.7"/>
<text x="848.3" y="391.2" style="font-size:30.5px;fill:#000">aGST</text>
</g>
<g id="panel1">
<defs><linearGradient id="g0" gradientUnits="userSpaceOnUse" x1="0" y1="524.45" x2="0" y2="911.40"><stop offset="0.0000" stop-color="#bebebe"/><stop offset="0.0065" stop-color="#afafaf"/><stop offset="0.0129" stop-color="#a0a0a0"/><stop offset="0.0194" stop-color="#919191"/><stop offset="0.0258" stop-color="#828282"/><stop offset="0.0323" stop-color="#747474"/><stop offset="0.0388" stop-color="#686868"/><stop offset="0.0452" stop-color="#5d5d5d"/><stop offset="0.0517" stop-color="#555555"/><stop offset="0.0581" stop-color="#4f4f4f"/><stop offset="0.0646" stop-color="#4d4d4d"/><stop offset="0.0711" stop-color="#4d4d4d"/><stop offset="0.0775" stop-color="#515151"/><stop offset="0.0840" stop-color="#575757"/><stop offset="0.0905" stop-color="#616161"/><stop offset="0.0969" stop-color="#6c6c6c"/><stop offset="0.1034" stop-color="#797979"/><stop offset="0.1098" stop-color="#888888"/><stop offset="0.1163" stop-color="#979797"/><stop offset="0.1228" stop-color="#a6a6a6"/><stop offset="0.1292" stop-color="#b5b5b5"/><stop offset="0.1357" stop-color="#c2c2c2"/><stop offset="0.1421" stop-color="#cecece"/><stop offset="0.1486" stop-color="#d8d8d8"/><stop offset="0.1551" stop-color="#e0e0e0"/><stop offset="0.1615" stop-color="#e4e4e4"/><stop offset="0.1680" stop-color="#e6e6e6"/><stop offset="0.1744" stop-color="#e4e4e4"/><stop offset="0.1809" stop-color="#e0e0e0"/><stop offset="0.1874" stop-color="#d9d9d9"/><stop offset="0.1938" stop-color="#cfcfcf"/><stop offset="0.2003" stop-color="#c3c3c3"/><stop offset="0.2067" stop-color="#b5b5b5"/><stop offset="0.2132" stop-color="#a7a7a7"/><stop offset="0.2197" stop-color="#979797"/><stop offset="0.2261" stop-color="#888888"/><stop offset="0.2326" stop-color="#7a7a7a"/><stop offset="0.2390" stop-color="#6c6c6c"/><stop offset="0.2455" stop-color="#616161"/><stop offset="0.2520" stop-color="#585858"/><stop offset="0.2584" stop-color="#515151"/><stop offset="0.2649" stop-color="#4e4e4e"/><stop offset="0.2714" stop-color="#4d4d4d"/><stop offset="0.2778" stop-color="#4f4f4f"/><stop offset="0.2843" stop-color="#555555"/><stop offset="0.2907" stop-color="#5d5d5d"/><stop offset="0.2972" stop-color="#676767"/><stop offset="0.3037" stop-color="#747474"/><stop offset="0.3101" stop-color="#828282"/><stop offset="0.3166" stop-color="#919191"/><stop offset="0.3230" stop-color="#a0a0a0"/><stop offset="0.3295" stop-color="#afafaf"/><stop offset="0.3360" stop-color="#bdbdbd"/><stop offset="0.3424" stop-color="#cacaca"/><stop offset="0.3489" stop-color="#d5d5d5"/><stop offset="0.3553" stop-color="#dddddd"/><stop offset="0.3618" stop-color="#e3e3e3"/><stop offset="0.3683" stop-color="#e5e5e5"/><stop offset="0.3747" stop-color="#e5e5e5"/><stop offset="0.3812" stop-color="#e2e2e2"/><stop offset="0.3876" stop-color="#dcdcdc"/><stop offset="0.3941" stop-color="#d3d3d3"/><stop offset="0.4006" stop-color="#c8c8c8"/><stop offset="0.4070" stop-color="#bbbbbb"/><stop offset="0.4135" stop-color="#acacac"/><stop offset="0.4200" stop-color="#9d9d9d"/><stop offset="0.4264" stop-color="#8e8e8e"/><stop offset="0.4329" stop-color="#7f7f7f"/><stop offset="0.4393" stop-color="#727272"/><stop offset="0.4458" stop-color="#656565"/><stop offset="0.4523" stop-color="#5b5b5b"/><stop offset="0.4587" stop-color="#545454"/><stop offset="0.4652" stop-color="#4f4f4f"/><stop offset="0.4716" stop-color="#4d4d4d"/><stop offset="0.4781" stop-color="#4e4e4e"/><stop offset="0.4846" stop-color="#525252"/><stop offset="0.4910" stop-color="#595959"/><stop offset="0.4975" stop-color="#636363"/><stop offset="0.5039" stop-color="#6e6e6e"/><stop offset="0.5104" stop-color="#7c7c7c"/><stop offset="0.5169" stop-color="#8a8a8a"/><stop offset="0.5233" stop-color="#9a9a9a"/><stop offset="0.5298" stop-color="#a9a9a9"/><stop offset="0.5362" stop-color="#b7b7b7"/><stop offset="0.5427" stop-color="#c5c5c5"/><stop offset="0.5492" stop-color="#d0d0d0"/><stop offset="0.5556" stop-color="#dadada"/><stop offset="0.5621" stop-color="#e1e1e1"/><stop offset="0.5685" stop-color="#e5e5e5"/><stop offset="0.5750" stop-color="#e6e6e6"/><stop offset="0.5815" stop-color="#e4e4e4"/><stop offset="0.5879" stop-color="#dfdfdf"/><stop offset="0.5944" stop-color="#d7d7d7"/><stop offset="0.6009" stop-color="#cdcdcd"/><stop offset="0.6073" stop-color="#c0c0c0"/><stop offset="0.6138" stop-color="#b2b2b2"/><stop offset="0.6202" stop-color="#a3a3a3"/><stop offset="0.6267" stop-color="#949494"/><stop offset="0.6332" stop-color="#858585"/><stop offset="0.6396" stop-color="#777777"/><stop offset="0.6461" stop-color="#6a6a6a"/><stop offset="0.6525" stop-color="#5f5f5f"/><stop offset="0.6590" stop-color="#565656"/><stop offset="0.6655" stop-color="#505050"/><stop offset="0.6719" stop-color="#4d4d4d"/><stop offset="0.6784" stop-color="#4d4d4d"/><stop offset="0.6848" stop-color="#505050"/><stop offset="0.6913" stop-color="#565656"/><stop offset="0.6978" stop-color="#5f5f5f"/><stop offset="0.7042" stop-color="#696969"/><stop offset="0.7107" stop-color="#767676"/><stop offset="0.7171" stop-color="#858585"/><stop offset="0.7236" stop-color="#949494"/><stop offset="0.7301" stop-color="#a3a3a3"/><stop offset="0.7365" stop-color="#b2b2b2"/><stop offset="0.7430" stop-color="#c0c0c0"/><stop offset="0.7495" stop-color="#cccccc"/><stop offset="0.7559" stop-color="#d6d6d6"/><stop offset="0.7624" stop-color="#dedede"/><stop offset="0.7688" stop-color="#e3e3e3"/><stop offset="0.7753" stop-color="#e6e6e6"/><stop offset="0.7818" stop-color="#e5e5e5"/><stop offset="0.7882" stop-color="#e1e1e1"/><stop offset="0.7947" stop-color="#dadada"/><stop offset="0.8011" stop-color="#d1d1d1"/><stop offset="0.8026" stop-color="#cfcfcf"/><stop offset="0.8155" stop-color="#c4c4c4"/><stop offset="0.8284" stop-color="#a8a8a8"/><stop offset="0.8413" stop-color="#858585"/><stop offset="0.8542" stop-color="#616161"/><stop offset="0.8672" stop-color="#4c4c4c"/><stop offset="0.8760" stop-color="#474747"/><stop offset="0.8878" stop-color="#5c5c5c"/><stop offset="0.9015" stop-color="#737373"/><stop offset="0.9137" stop-color="#808080"/><stop offset="0.9263" stop-color="#999999"/><stop offset="0.9369" stop-color="#adadad"/><stop offset="0.9514" stop-color="#cccccc"/><stop offset="0.9628" stop-color="#dedede"/><stop offset="0.9747" stop-color="#d4d4d4"/><stop offset="0.9860" stop-color="#c2c2c2"/><stop offset="1.0003" stop-color="#adadad"/></linearGradient><radialGradient id="b0_0" gradientUnits="userSpaceOnUse" cx="0" cy="0" r="1" gradientTransform="translate(36.00 862.50) scale(10.00 10.00)"><stop offset="0.00" stop-color="#212121" stop-opacity="0.820"/><stop offset="0.40" stop-color="#212121" stop-opacity="0.738"/><stop offset="0.65" stop-color="#212121" stop-opacity="0.451"/><stop offset="0.85" stop-color="#212121" stop-opacity="0.148"/><stop offset="1.00" stop-color="#212121" stop-opacity="0.000"/></radialGradient><radialGradient id="b0_1" gradientUnits="userSpaceOnUse" cx="0" cy="0" r="1" gradientTransform="translate(67.00 862.50) scale(10.00 10.00)"><stop offset="0.00" stop-color="#212121" stop-opacity="0.820"/><stop offset="0.40" stop-color="#212121" stop-opacity="0.738"/><stop offset="0.65" stop-color="#212121" stop-opacity="0.451"/><stop offset="0.85" stop-color="#212121" stop-opacity="0.148"/><stop offset="1.00" stop-color="#212121" stop-opacity="0.000"/></radialGradient><radialGradient id="b0_2" gradientUnits="userSpaceOnUse" cx="0" cy="0" r="1" gradientTransform="translate(51.50 850.00) scale(10.00 9.00)"><stop offset="0.00" stop-color="#adadad" stop-opacity="0.800"/><stop offset="0.40" stop-color="#adadad" stop-opacity="0.720"/><stop offset="0.65" stop-color="#adadad" stop-opacity="0.440"/><stop offset="0.85" stop-color="#adadad" stop-opacity="0.144"/><stop offset="1.00" stop-color="#adadad" stop-opacity="0.000"/></radialGradient><radialGradient id="b0_3" gradientUnits="userSpaceOnUse" cx="0" cy="0" r="1" gradientTransform="translate(51.50 862.00) scale(11.00 12.00)"><stop offset="0.00" stop-color="#828282" stop-opacity="0.920"/><stop offset="0.40" stop-color="#828282" stop-opacity="0.828"/><stop offset="0.65" stop-color="#828282" stop-opacity="0.506"/><stop offset="0.85" stop-color="#828282" stop-opacity="0.166"/><stop offset="1.00" stop-color="#828282" stop-opacity="0.000"/></radialGradient><radialGradient id="b0_4" gradientUnits="userSpaceOnUse" cx="0" cy="0" r="1" gradientTransform="translate(51.50 864.00) scale(11.00 1.30)"><stop offset="0.00" stop-color="#adadad" stop-opacity="0.800"/><stop offset="0.40" stop-color="#adadad" stop-opacity="0.720"/><stop offset="0.65" stop-color="#adadad" stop-opacity="0.440"/><stop offset="0.85" stop-color="#adadad" stop-opacity="0.144"/><stop offset="1.00" stop-color="#adadad" stop-opacity="0.000"/></radialGradient><radialGradient id="b0_5" gradientUnits="userSpaceOnUse" cx="0" cy="0" r="1" gradientTransform="translate(62.30 864.50) scale(3.80 2.00)"><stop offset="0.00" stop-color="#ffffff" stop-opacity="1.000"/><stop offset="0.40" stop-color="#ffffff" stop-opacity="0.900"/><stop offset="0.65" stop-color="#ffffff" stop-opacity="0.550"/><stop offset="0.85" stop-color="#ffffff" stop-opacity="0.180"/><stop offset="1.00" stop-color="#ffffff" stop-opacity="0.000"/></radialGradient><radialGradient id="b0_6" gradientUnits="userSpaceOnUse" cx="0" cy="0" r="1" gradientTransform="translate(40.50 864.00) scale(3.50 2.00)"><stop offset="0.00" stop-color="#b2b2b2" stop-opacity="0.900"/><stop offset="0.40" stop-color="#b2b2b2" stop-opacity="0.810"/><stop offset="0.65" stop-color="#b2b2b2" stop-opacity="0.495"/><stop offset="0.85" stop-color="#b2b2b2" stop-opacity="0.162"/><stop offset="1.00" stop-color="#b2b2b2" stop-opacity="0.000"/></radialGradient><radialGradient id="b0_7" gradientUnits="userSpaceOnUse" cx="0" cy="0" r="1" gradientTransform="translate(51.50 896.00) scale(22.00 7.00)"><stop offset="0.00" stop-color="#ebebeb" stop-opacity="0.600"/><stop offset="0.40" stop-color="#ebebeb" stop-opacity="0.540"/><stop offset="0.65" stop-color="#ebebeb" stop-opacity="0.330"/><stop offset="0.85" stop-color="#ebebeb" stop-opacity="0.108"/><stop offset="1.00" stop-color="#ebebeb" stop-opacity="0.000"/></radialGradient><clipPath id="c0"><rect x="27.30" y="524.45" width="48.40" height="386.95"/></clipPath></defs>
<g filter="url(#jet)"><g clip-path="url(#c0)">
<rect x="27.30" y="524.45" width="48.40" height="386.95" fill="url(#g0)"/>
<ellipse cx="36.00" cy="862.50" rx="10.00" ry="10.00" fill="url(#b0_0)"/>
<ellipse cx="67.00" cy="862.50" rx="10.00" ry="10.00" fill="url(#b0_1)"/>
<ellipse cx="51.50" cy="850.00" rx="10.00" ry="9.00" fill="url(#b0_2)"/>
<ellipse cx="51.50" cy="862.00" rx="11.00" ry="12.00" fill="url(#b0_3)"/>
<ellipse cx="51.50" cy="864.00" rx="11.00" ry="1.30" fill="url(#b0_4)"/>
<ellipse cx="62.30" cy="864.50" rx="3.80" ry="2.00" fill="url(#b0_5)"/>
<ellipse cx="40.50" cy="864.00" rx="3.50" ry="2.00" fill="url(#b0_6)"/>
<ellipse cx="51.50" cy="896.00" rx="22.00" ry="7.00" fill="url(#b0_7)"/>
</g></g>
<path d="M27.30 863.40 H75.70 M27.30 873.30 H75.70 M27.30 882.90 H75.70 M27.30 892.60 H75.70 M27.30 901.60 H75.70 M39.60 863.40 A11.90 12.70 0 0 1 63.40 863.40" fill="none" stroke="#000" stroke-width="1.1" stroke-opacity="0.72"/>
<rect x="27.30" y="524.45" width="48.40" height="386.95" fill="none" stroke="#000" stroke-width="1.1" stroke-opacity="0.75" rx="1"/>
<g filter="url(#jet)"><rect x="97.15" y="539.50" width="9.80" height="375.70" fill="url(#cbg)"/></g>
<rect x="97.15" y="539.50" width="9.80" height="375.70" fill="none" stroke="#222" stroke-width="0.9" stroke-opacity="0.9"/>
<text x="111.25" y="581.85" class="cb">200</text>
<text x="111.25" y="638.55" class="cb">100</text>
<text x="111.25" y="695.25" class="cb">0</text>
<text x="111.25" y="751.95" class="cb">-100</text>
<text x="111.25" y="808.65" class="cb">-200</text>
<text x="111.25" y="865.35" class="cb">-300</text>
<path d="M97.15 575.50 h1.6 M106.95 575.50 h-1.6 M97.15 632.20 h1.6 M106.95 632.20 h-1.6 M97.15 688.90 h1.6 M106.95 688.90 h-1.6 M97.15 745.60 h1.6 M106.95 745.60 h-1.6 M97.15 802.30 h1.6 M106.95 802.30 h-1.6 M97.15 859.00 h1.6 M106.95 859.00 h-1.6" stroke="#111" stroke-width="1" fill="none"/>
<text class="pn" x="55.0" y="956.2" text-anchor="middle">1</text>
</g>
<g id="panel2">
<defs><linearGradient id="g1" gradientUnits="userSpaceOnUse" x1="0" y1="524.45" x2="0" y2="911.40"><stop offset="0.0000" stop-color="#c2c2c2"/><stop offset="0.0065" stop-color="#d2d2d2"/><stop offset="0.0129" stop-color="#e0e0e0"/><stop offset="0.0194" stop-color="#ececec"/><stop offset="0.0258" stop-color="#f5f5f5"/><stop offset="0.0323" stop-color="#fafafa"/><stop offset="0.0388" stop-color="#fdfdfd"/><stop offset="0.0452" stop-color="#fcfcfc"/><stop offset="0.0517" stop-color="#f8f8f8"/><stop offset="0.0581" stop-color="#f0f0f0"/><stop offset="0.0646" stop-color="#e6e6e6"/><stop offset="0.0711" stop-color="#d9d9d9"/><stop offset="0.0775" stop-color="#c9c9c9"/><stop offset="0.0840" stop-color="#b8b8b8"/><stop offset="0.0905" stop-color="#a6a6a6"/><stop offset="0.0969" stop-color="#929292"/><stop offset="0.1034" stop-color="#7f7f7f"/><stop offset="0.1098" stop-color="#6c6c6c"/><stop offset="0.1163" stop-color="#5a5a5a"/><stop offset="0.1228" stop-color="#4a4a4a"/><stop offset="0.1292" stop-color="#3b3b3b"/><stop offset="0.1357" stop-color="#2f2f2f"/><stop offset="0.1421" stop-color="#262626"/><stop offset="0.1486" stop-color="#202020"/><stop offset="0.1551" stop-color="#1d1d1d"/><stop offset="0.1615" stop-color="#1d1d1d"/><stop offset="0.1680" stop-color="#212121"/><stop offset="0.1744" stop-color="#282828"/><stop offset="0.1809" stop-color="#323232"/><stop offset="0.1874" stop-color="#3f3f3f"/><stop offset="0.1938" stop-color="#4e4e4e"/><stop offset="0.2003" stop-color="#5f5f5f"/><stop offset="0.2067" stop-color="#717171"/><stop offset="0.2132" stop-color="#848484"/><stop offset="0.2197" stop-color="#989898"/><stop offset="0.2261" stop-color="#ababab"/><stop offset="0.2326" stop-color="#bdbdbd"/><stop offset="0.2390" stop-color="#cecece"/><stop offset="0.2455" stop-color="#dddddd"/><stop offset="0.2520" stop-color="#e9e9e9"/><stop offset="0.2584" stop-color="#f3f3f3"/><stop offset="0.2649" stop-color="#f9f9f9"/><stop offset="0.2714" stop-color="#fdfdfd"/><stop offset="0.2778" stop-color="#fdfdfd"/><stop offset="0.2843" stop-color="#f9f9f9"/><stop offset="0.2907" stop-color="#f3f3f3"/><stop offset="0.2972" stop-color="#e9e9e9"/><stop offset="0.3037" stop-color="#dddddd"/><stop offset="0.3101" stop-color="#cecece"/><stop offset="0.3166" stop-color="#bdbdbd"/><stop offset="0.3230" stop-color="#ababab"/><stop offset="0.3295" stop-color="#989898"/><stop offset="0.3360" stop-color="#848484"/><stop offset="0.3424" stop-color="#717171"/><stop offset="0.3489" stop-color="#5f5f5f"/><stop offset="0.3553" stop-color="#4e4e4e"/><stop offset="0.3618" stop-color="#3f3f3f"/><stop offset="0.3683" stop-color="#323232"/><stop offset="0.3747" stop-color="#282828"/><stop offset="0.3812" stop-color="#212121"/><stop offset="0.3876" stop-color="#1d1d1d"/><stop offset="0.3941" stop-color="#1d1d1d"/><stop offset="0.4006" stop-color="#202020"/><stop offset="0.4070" stop-color="#262626"/><stop offset="0.4135" stop-color="#2f2f2f"/><stop offset="0.4200" stop-color="#3b3b3b"/><stop offset="0.4264" stop-color="#4a4a4a"/><stop offset="0.4329" stop-color="#5a5a5a"/><stop offset="0.4393" stop-color="#6c6c6c"/><stop offset="0.4458" stop-color="#7f7f7f"/><stop offset="0.4523" stop-color="#929292"/><stop offset="0.4587" stop-color="#a6a6a6"/><stop offset="0.4652" stop-color="#b8b8b8"/><stop offset="0.4716" stop-color="#c9c9c9"/><stop offset="0.4781" stop-color="#d9d9d9"/><stop offset="0.4846" stop-color="#e6e6e6"/><stop offset="0.4910" stop-color="#f0f0f0"/><stop offset="0.4975" stop-color="#f8f8f8"/><stop offset="0.5039" stop-color="#fcfcfc"/><stop offset="0.5104" stop-color="#fdfdfd"/><stop offset="0.5169" stop-color="#fafafa"/><stop offset="0.5233" stop-color="#f5f5f5"/><stop offset="0.5298" stop-color="#ececec"/><stop offset="0.5362" stop-color="#e0e0e0"/><stop offset="0.5427" stop-color="#d2d2d2"/><stop offset="0.5492" stop-color="#c2c2c2"/><stop offset="0.5556" stop-color="#b0b0b0"/><stop offset="0.5621" stop-color="#9d9d9d"/><stop offset="0.5685" stop-color="#8a8a8a"/><stop offset="0.5750" stop-color="#777777"/><stop offset="0.5815" stop-color="#646464"/><stop offset="0.5879" stop-color="#535353"/><stop offset="0.5944" stop-color="#434343"/><stop offset="0.6009" stop-color="#353535"/><stop offset="0.6073" stop-color="#2b2b2b"/><stop offset="0.6138" stop-color="#232323"/><stop offset="0.6202" stop-color="#1e1e1e"/><stop offset="0.6267" stop-color="#1d1d1d"/><stop offset="0.6332" stop-color="#1f1f1f"/><stop offset="0.6396" stop-color="#242424"/><stop offset="0.6461" stop-color="#2c2c2c"/><stop offset="0.6525" stop-color="#373737"/><stop offset="0.6590" stop-color="#454545"/><stop offset="0.6655" stop-color="#555555"/><stop offset="0.6719" stop-color="#676767"/><stop offset="0.6784" stop-color="#7a7a7a"/><stop offset="0.6848" stop-color="#8d8d8d"/><stop offset="0.6913" stop-color="#a0a0a0"/><stop offset="0.6978" stop-color="#b3b3b3"/><stop offset="0.7042" stop-color="#c5c5c5"/><stop offset="0.7107" stop-color="#d5d5d5"/><stop offset="0.7171" stop-color="#e2e2e2"/><stop offset="0.7236" stop-color="#eeeeee"/><stop offset="0.7301" stop-color="#f6f6f6"/><stop offset="0.7365" stop-color="#fbfbfb"/><stop offset="0.7430" stop-color="#fdfdfd"/><stop offset="0.7495" stop-color="#fbfbfb"/><stop offset="0.7559" stop-color="#f7f7f7"/><stop offset="0.7624" stop-color="#efefef"/><stop offset="0.7688" stop-color="#e4e4e4"/><stop offset="0.7753" stop-color="#d6d6d6"/><stop offset="0.7818" stop-color="#c7c7c7"/><stop offset="0.7882" stop-color="#b5b5b5"/><stop offset="0.7947" stop-color="#a3a3a3"/><stop offset="0.8011" stop-color="#8f8f8f"/><stop offset="0.8076" stop-color="#7c7c7c"/><stop offset="0.8141" stop-color="#696969"/><stop offset="0.8205" stop-color="#575757"/><stop offset="0.8270" stop-color="#474747"/><stop offset="0.8334" stop-color="#393939"/><stop offset="0.8399" stop-color="#2d2d2d"/><stop offset="0.8464" stop-color="#252525"/><stop offset="0.8528" stop-color="#1f1f1f"/><stop offset="0.8593" stop-color="#1d1d1d"/><stop offset="0.8657" stop-color="#1e1e1e"/><stop offset="0.8672" stop-color="#1e1e1e"/><stop offset="0.8760" stop-color="#1f1f1f"/><stop offset="0.8827" stop-color="#383838"/><stop offset="0.8930" stop-color="#5c5c5c"/><stop offset="0.9015" stop-color="#757575"/><stop offset="0.9137" stop-color="#858585"/><stop offset="0.9266" stop-color="#909090"/><stop offset="0.9395" stop-color="#959595"/><stop offset="0.9747" stop-color="#959595"/><stop offset="0.9860" stop-color="#909090"/><stop offset="1.0003" stop-color="#8e8e8e"/></linearGradient><radialGradient id="b1_0" gradientUnits="userSpaceOnUse" cx="0" cy="0" r="1" gradientTransform="translate(182.05 860.00) scale(12.50 12.00)"><stop offset="0.00" stop-color="#9e9e9e" stop-opacity="0.950"/><stop offset="0.40" stop-color="#9e9e9e" stop-opacity="0.855"/><stop offset="0.65" stop-color="#9e9e9e" stop-opacity="0.522"/><stop offset="0.85" stop-color="#9e9e9e" stop-opacity="0.171"/><stop offset="1.00" stop-color="#9e9e9e" stop-opacity="0.000"/></radialGradient><radialGradient id="b1_1" gradientUnits="userSpaceOnUse" cx="0" cy="0" r="1" gradientTransform="translate(182.05 867.00) scale(11.50 9.50)"><stop offset="0.00" stop-color="#cccccc" stop-opacity="1.000"/><stop offset="0.40" stop-color="#cccccc" stop-opacity="0.900"/><stop offset="0.65" stop-color="#cccccc" stop-opacity="0.550"/><stop offset="0.85" stop-color="#cccccc" stop-opacity="0.180"/><stop offset="1.00" stop-color="#cccccc" stop-opacity="0.000"/></radialGradient><radialGradient id="b1_2" gradientUnits="userSpaceOnUse" cx="0" cy="0" r="1" gradientTransform="translate(182.05 864.40) scale(12.50 3.40)"><stop offset="0.00" stop-color="#ffffff" stop-opacity="1.000"/><stop offset="0.40" stop-color="#ffffff" stop-opacity="0.900"/><stop offset="0.65" stop-color="#ffffff" stop-opacity="0.550"/><stop offset="0.85" stop-color="#ffffff" stop-opacity="0.180"/><stop offset="1.00" stop-color="#ffffff" stop-opacity="0.000"/></radialGradient><radialGradient id="b1_3" gradientUnits="userSpaceOnUse" cx="0" cy="0" r="1" gradientTransform="translate(182.05 881.00) scale(16.00 8.00)"><stop offset="0.00" stop-color="#999999" stop-opacity="0.500"/><stop offset="0.40" stop-color="#999999" stop-opacity="0.450"/><stop offset="0.65" stop-color="#999999" stop-opacity="0.275"/><stop offset="0.85" stop-color="#999999" stop-opacity="0.090"/><stop offset="1.00" stop-color="#999999" stop-opacity="0.000"/></radialGradient><clipPath id="c1"><rect x="157.85" y="524.45" width="48.40" height="386.95"/></clipPath></defs>
<g filter="url(#jet)"><g clip-path="url(#c1)">
<rect x="157.85" y="524.45" width="48.40" height="386.95" fill="url(#g1)"/>
<ellipse cx="182.05" cy="860.00" rx="12.50" ry="12.00" fill="url(#b1_0)"/>
<ellipse cx="182.05" cy="867.00" rx="11.50" ry="9.50" fill="url(#b1_1)"/>
<ellipse cx="182.05" cy="864.40" rx="12.50" ry="3.40" fill="url(#b1_2)"/>
<ellipse cx="182.05" cy="881.00" rx="16.00" ry="8.00" fill="url(#b1_3)"/>
</g></g>
<path d="M157.85 863.40 H206.25 M157.85 873.30 H206.25 M157.85 882.90 H206.25 M157.85 892.60 H206.25 M157.85 901.60 H206.25 M170.15 863.40 A11.90 12.70 0 0 1 193.95 863.40" fill="none" stroke="#000" stroke-width="1.1" stroke-opacity="0.72"/>
<rect x="157.85" y="524.45" width="48.40" height="386.95" fill="none" stroke="#000" stroke-width="1.1" stroke-opacity="0.75" rx="1"/>
<g filter="url(#jet)"><rect x="227.70" y="539.50" width="9.80" height="375.70" fill="url(#cbg)"/></g>
<rect x="227.70" y="539.50" width="9.80" height="375.70" fill="none" stroke="#222" stroke-width="0.9" stroke-opacity="0.9"/>
<text x="241.80" y="572.30" class="cb">150</text>
<text x="241.80" y="620.35" class="cb">100</text>
<text x="241.80" y="668.40" class="cb">50</text>
<text x="241.80" y="716.45" class="cb">0</text>
<text x="241.80" y="764.50" class="cb">-50</text>
<text x="241.80" y="812.55" class="cb">-100</text>
<text x="241.80" y="860.60" class="cb">-150</text>
<text x="241.80" y="908.65" class="cb">-200</text>
<path d="M227.70 565.95 h1.6 M237.50 565.95 h-1.6 M227.70 614.00 h1.6 M237.50 614.00 h-1.6 M227.70 662.05 h1.6 M237.50 662.05 h-1.6 M227.70 710.10 h1.6 M237.50 710.10 h-1.6 M227.70 758.15 h1.6 M237.50 758.15 h-1.6 M227.70 806.20 h1.6 M237.50 806.20 h-1.6 M227.70 854.25 h1.6 M237.50 854.25 h-1.6 M227.70 902.30 h1.6 M237.50 902.30 h-1.6" stroke="#111" stroke-width="1" fill="none"/>
<text class="pn" x="183.8" y="956.2" text-anchor="middle">2</text>
</g>
<g id="panel3">
<defs><linearGradient id="g2" gradientUnits="userSpaceOnUse" x1="0" y1="524.45" x2="0" y2="911.40"><stop offset="0.0000" stop-color="#aaaaaa"/><stop offset="0.0065" stop-color="#a7a7a7"/><stop offset="0.0129" stop-color="#a3a3a3"/><stop offset="0.0194" stop-color="#9f9f9f"/><stop offset="0.0258" stop-color="#9a9a9a"/><stop offset="0.0323" stop-color="#969696"/><stop offset="0.0388" stop-color="#919191"/><stop offset="0.0452" stop-color="#8c8c8c"/><stop offset="0.0517" stop-color="#888888"/><stop offset="0.0581" stop-color="#838383"/><stop offset="0.0646" stop-color="#7e7e7e"/><stop offset="0.0711" stop-color="#7a7a7a"/><stop offset="0.0775" stop-color="#757575"/><stop offset="0.0840" stop-color="#717171"/><stop offset="0.0905" stop-color="#6d6d6d"/><stop offset="0.0969" stop-color="#6a6a6a"/><stop offset="0.1034" stop-color="#676767"/><stop offset="0.1098" stop-color="#646464"/><stop offset="0.1163" stop-color="#616161"/><stop offset="0.1228" stop-color="#5f5f5f"/><stop offset="0.1292" stop-color="#5e5e5e"/><stop offset="0.1357" stop-color="#5d5d5d"/><stop offset="0.1421" stop-color="#5c5c5c"/><stop offset="0.1486" stop-color="#5c5c5c"/><stop offset="0.1551" stop-color="#5d5d5d"/><stop offset="0.1615" stop-color="#5d5d5d"/><stop offset="0.1680" stop-color="#5f5f5f"/><stop offset="0.1744" stop-color="#616161"/><stop offset="0.1809" stop-color="#636363"/><stop offset="0.1874" stop-color="#666666"/><stop offset="0.1938" stop-color="#696969"/><stop offset="0.2003" stop-color="#6c6c6c"/><stop offset="0.2067" stop-color="#707070"/><stop offset="0.2132" stop-color="#747474"/><stop offset="0.2197" stop-color="#797979"/><stop offset="0.2261" stop-color="#7d7d7d"/><stop offset="0.2326" stop-color="#828282"/><stop offset="0.2390" stop-color="#878787"/><stop offset="0.2455" stop-color="#8b8b8b"/><stop offset="0.2520" stop-color="#909090"/><stop offset="0.2584" stop-color="#959595"/><stop offset="0.2649" stop-color="#999999"/><stop offset="0.2714" stop-color="#9e9e9e"/><stop offset="0.2778" stop-color="#a2a2a2"/><stop offset="0.2843" stop-color="#a6a6a6"/><stop offset="0.2907" stop-color="#a9a9a9"/><stop offset="0.2972" stop-color="#adadad"/><stop offset="0.3037" stop-color="#b0b0b0"/><stop offset="0.3101" stop-color="#b2b2b2"/><stop offset="0.3166" stop-color="#b4b4b4"/><stop offset="0.3230" stop-color="#b6b6b6"/><stop offset="0.3295" stop-color="#b7b7b7"/><stop offset="0.3360" stop-color="#b8b8b8"/><stop offset="0.3424" stop-color="#b8b8b8"/><stop offset="0.3489" stop-color="#b8b8b8"/><stop offset="0.3553" stop-color="#b7b7b7"/><stop offset="0.3618" stop-color="#b5b5b5"/><stop offset="0.3683" stop-color="#b4b4b4"/><stop offset="0.3747" stop-color="#b1b1b1"/><stop offset="0.3812" stop-color="#afafaf"/><stop offset="0.3876" stop-color="#acacac"/><stop offset="0.3941" stop-color="#a8a8a8"/><stop offset="0.4006" stop-color="#a4a4a4"/><stop offset="0.4070" stop-color="#a0a0a0"/><stop offset="0.4135" stop-color="#9c9c9c"/><stop offset="0.4200" stop-color="#989898"/><stop offset="0.4264" stop-color="#939393"/><stop offset="0.4329" stop-color="#8e8e8e"/><stop offset="0.4393" stop-color="#8a8a8a"/><stop offset="0.4458" stop-color="#858585"/><stop offset="0.4523" stop-color="#808080"/><stop offset="0.4587" stop-color="#7b7b7b"/><stop offset="0.4652" stop-color="#777777"/><stop offset="0.4716" stop-color="#737373"/><stop offset="0.4781" stop-color="#6f6f6f"/><stop offset="0.4846" stop-color="#6b6b6b"/><stop offset="0.4910" stop-color="#686868"/><stop offset="0.4975" stop-color="#656565"/><stop offset="0.5039" stop-color="#626262"/><stop offset="0.5104" stop-color="#606060"/><stop offset="0.5169" stop-color="#5e5e5e"/><stop offset="0.5233" stop-color="#5d5d5d"/><stop offset="0.5298" stop-color="#5c5c5c"/><stop offset="0.5362" stop-color="#5c5c5c"/><stop offset="0.5427" stop-color="#5c5c5c"/><stop offset="0.5492" stop-color="#5d5d5d"/><stop offset="0.5556" stop-color="#5e5e5e"/><stop offset="0.5621" stop-color="#606060"/><stop offset="0.5685" stop-color="#626262"/><stop offset="0.5750" stop-color="#656565"/><stop offset="0.5815" stop-color="#686868"/><stop offset="0.5879" stop-color="#6b6b6b"/><stop offset="0.5944" stop-color="#6f6f6f"/><stop offset="0.6009" stop-color="#737373"/><stop offset="0.6073" stop-color="#777777"/><stop offset="0.6138" stop-color="#7b7b7b"/><stop offset="0.6202" stop-color="#808080"/><stop offset="0.6267" stop-color="#858585"/><stop offset="0.6332" stop-color="#898989"/><stop offset="0.6396" stop-color="#8e8e8e"/><stop offset="0.6461" stop-color="#939393"/><stop offset="0.6525" stop-color="#989898"/><stop offset="0.6590" stop-color="#9c9c9c"/><stop offset="0.6655" stop-color="#a0a0a0"/><stop offset="0.6719" stop-color="#a4a4a4"/><stop offset="0.6784" stop-color="#a8a8a8"/><stop offset="0.6848" stop-color="#acacac"/><stop offset="0.6913" stop-color="#afafaf"/><stop offset="0.6978" stop-color="#b1b1b1"/><stop offset="0.7042" stop-color="#b4b4b4"/><stop offset="0.7107" stop-color="#b5b5b5"/><stop offset="0.7171" stop-color="#b7b7b7"/><stop offset="0.7236" stop-color="#b7b7b7"/><stop offset="0.7301" stop-color="#b8b8b8"/><stop offset="0.7365" stop-color="#b8b8b8"/><stop offset="0.7430" stop-color="#b7b7b7"/><stop offset="0.7495" stop-color="#b6b6b6"/><stop offset="0.7559" stop-color="#b4b4b4"/><stop offset="0.7624" stop-color="#b2b2b2"/><stop offset="0.7688" stop-color="#b0b0b0"/><stop offset="0.7753" stop-color="#adadad"/><stop offset="0.7818" stop-color="#aaaaaa"/><stop offset="0.7882" stop-color="#a6a6a6"/><stop offset="0.7947" stop-color="#a2a2a2"/><stop offset="0.8011" stop-color="#9e9e9e"/><stop offset="0.8076" stop-color="#999999"/><stop offset="0.8141" stop-color="#959595"/><stop offset="0.8205" stop-color="#909090"/><stop offset="0.8270" stop-color="#8b8b8b"/><stop offset="0.8334" stop-color="#878787"/><stop offset="0.8362" stop-color="#858585"/><stop offset="0.8581" stop-color="#707070"/><stop offset="0.8760" stop-color="#595959"/><stop offset="0.8878" stop-color="#404040"/><stop offset="0.9015" stop-color="#303030"/><stop offset="0.9137" stop-color="#2b2b2b"/><stop offset="0.9263" stop-color="#3d3d3d"/><stop offset="0.9344" stop-color="#4f4f4f"/><stop offset="0.9447" stop-color="#666666"/><stop offset="0.9514" stop-color="#808080"/><stop offset="0.9576" stop-color="#999999"/><stop offset="0.9654" stop-color="#adadad"/><stop offset="0.9747" stop-color="#d1d1d1"/><stop offset="0.9835" stop-color="#e6e6e6"/><stop offset="1.0003" stop-color="#f7f7f7"/></linearGradient><radialGradient id="b2_0" gradientUnits="userSpaceOnUse" cx="0" cy="0" r="1" gradientTransform="translate(319.00 861.00) scale(11.00 8.00)"><stop offset="0.00" stop-color="#4c4c4c" stop-opacity="0.700"/><stop offset="0.40" stop-color="#4c4c4c" stop-opacity="0.630"/><stop offset="0.65" stop-color="#4c4c4c" stop-opacity="0.385"/><stop offset="0.85" stop-color="#4c4c4c" stop-opacity="0.126"/><stop offset="1.00" stop-color="#4c4c4c" stop-opacity="0.000"/></radialGradient><radialGradient id="b2_1" gradientUnits="userSpaceOnUse" cx="0" cy="0" r="1" gradientTransform="translate(319.00 865.00) scale(13.00 6.50)"><stop offset="0.00" stop-color="#000000" stop-opacity="1.000"/><stop offset="0.40" stop-color="#000000" stop-opacity="0.900"/><stop offset="0.65" stop-color="#000000" stop-opacity="0.550"/><stop offset="0.85" stop-color="#000000" stop-opacity="0.180"/><stop offset="1.00" stop-color="#000000" stop-opacity="0.000"/></radialGradient><clipPath id="c2"><rect x="294.80" y="524.45" width="48.40" height="386.95"/></clipPath></defs>
<g filter="url(#jet)"><g clip-path="url(#c2)">
<rect x="294.80" y="524.45" width="48.40" height="386.95" fill="url(#g2)"/>
<ellipse cx="319.00" cy="861.00" rx="11.00" ry="8.00" fill="url(#b2_0)"/>
<ellipse cx="319.00" cy="865.00" rx="13.00" ry="6.50" fill="url(#b2_1)"/>
</g></g>
<path d="M294.80 863.40 H343.20 M294.80 873.30 H343.20 M294.80 882.90 H343.20 M294.80 892.60 H343.20 M294.80 901.60 H343.20 M307.10 863.40 A11.90 12.70 0 0 1 330.90 863.40" fill="none" stroke="#000" stroke-width="1.1" stroke-opacity="0.72"/>
<rect x="294.80" y="524.45" width="48.40" height="386.95" fill="none" stroke="#000" stroke-width="1.1" stroke-opacity="0.75" rx="1"/>
<g filter="url(#jet)"><rect x="364.65" y="539.50" width="9.80" height="375.70" fill="url(#cbg)"/></g>
<rect x="364.65" y="539.50" width="9.80" height="375.70" fill="none" stroke="#222" stroke-width="0.9" stroke-opacity="0.9"/>
<text x="378.75" y="556.80" class="cb">300</text>
<text x="378.75" y="610.55" class="cb">200</text>
<text x="378.75" y="664.30" class="cb">100</text>
<text x="378.75" y="718.05" class="cb">0</text>
<text x="378.75" y="771.80" class="cb">-100</text>
<text x="378.75" y="825.55" class="cb">-200</text>
<text x="378.75" y="879.30" class="cb">-300</text>
<path d="M364.65 550.45 h1.6 M374.45 550.45 h-1.6 M364.65 604.20 h1.6 M374.45 604.20 h-1.6 M364.65 657.95 h1.6 M374.45 657.95 h-1.6 M364.65 711.70 h1.6 M374.45 711.70 h-1.6 M364.65 765.45 h1.6 M374.45 765.45 h-1.6 M364.65 819.20 h1.6 M374.45 819.20 h-1.6 M364.65 872.95 h1.6 M374.45 872.95 h-1.6" stroke="#111" stroke-width="1" fill="none"/>
<text class="pn" x="323.0" y="956.2" text-anchor="middle">3</text>
</g>
<g id="panel4">
<defs><linearGradient id="g3" gradientUnits="userSpaceOnUse" x1="0" y1="524.45" x2="0" y2="911.40"><stop offset="0.0000" stop-color="#9c9c9c"/><stop offset="0.0065" stop-color="#a7a7a7"/><stop offset="0.0129" stop-color="#b0b0b0"/><stop offset="0.0194" stop-color="#bababa"/><stop offset="0.0258" stop-color="#c3c3c3"/><stop offset="0.0323" stop-color="#cbcbcb"/><stop offset="0.0388" stop-color="#d3d3d3"/><stop offset="0.0452" stop-color="#dbdbdb"/><stop offset="0.0517" stop-color="#e2e2e2"/><stop offset="0.0581" stop-color="#e8e8e8"/><stop offset="0.0646" stop-color="#ededed"/><stop offset="0.0711" stop-color="#f1f1f1"/><stop offset="0.0775" stop-color="#f5f5f5"/><stop offset="0.0840" stop-color="#f8f8f8"/><stop offset="0.0905" stop-color="#fafafa"/><stop offset="0.0969" stop-color="#fbfbfb"/><stop offset="0.1034" stop-color="#fbfbfb"/><stop offset="0.1098" stop-color="#fafafa"/><stop offset="0.1163" stop-color="#f8f8f8"/><stop offset="0.1228" stop-color="#f5f5f5"/><stop offset="0.1292" stop-color="#f2f2f2"/><stop offset="0.1357" stop-color="#eeeeee"/><stop offset="0.1421" stop-color="#e8e8e8"/><stop offset="0.1486" stop-color="#e3e3e3"/><stop offset="0.1551" stop-color="#dcdcdc"/><stop offset="0.1615" stop-color="#d5d5d5"/><stop offset="0.1680" stop-color="#cdcdcd"/><stop offset="0.1744" stop-color="#c4c4c4"/><stop offset="0.1809" stop-color="#bbbbbb"/><stop offset="0.1874" stop-color="#b2b2b2"/><stop offset="0.1938" stop-color="#a8a8a8"/><stop offset="0.2003" stop-color="#9e9e9e"/><stop offset="0.2067" stop-color="#949494"/><stop offset="0.2132" stop-color="#898989"/><stop offset="0.2197" stop-color="#7f7f7f"/><stop offset="0.2261" stop-color="#757575"/><stop offset="0.2326" stop-color="#6a6a6a"/><stop offset="0.2390" stop-color="#606060"/><stop offset="0.2455" stop-color="#565656"/><stop offset="0.2520" stop-color="#4d4d4d"/><stop offset="0.2584" stop-color="#444444"/><stop offset="0.2649" stop-color="#3b3b3b"/><stop offset="0.2714" stop-color="#333333"/><stop offset="0.2778" stop-color="#2c2c2c"/><stop offset="0.2843" stop-color="#252525"/><stop offset="0.2907" stop-color="#1f1f1f"/><stop offset="0.2972" stop-color="#191919"/><stop offset="0.3037" stop-color="#151515"/><stop offset="0.3101" stop-color="#111111"/><stop offset="0.3166" stop-color="#0e0e0e"/><stop offset="0.3230" stop-color="#0c0c0c"/><stop offset="0.3295" stop-color="#0b0b0b"/><stop offset="0.3360" stop-color="#0b0b0b"/><stop offset="0.3424" stop-color="#0c0c0c"/><stop offset="0.3489" stop-color="#0d0d0d"/><stop offset="0.3553" stop-color="#101010"/><stop offset="0.3618" stop-color="#131313"/><stop offset="0.3683" stop-color="#171717"/><stop offset="0.3747" stop-color="#1d1d1d"/><stop offset="0.3812" stop-color="#222222"/><stop offset="0.3876" stop-color="#292929"/><stop offset="0.3941" stop-color="#303030"/><stop offset="0.4006" stop-color="#383838"/><stop offset="0.4070" stop-color="#404040"/><stop offset="0.4135" stop-color="#494949"/><stop offset="0.4200" stop-color="#535353"/><stop offset="0.4264" stop-color="#5c5c5c"/><stop offset="0.4329" stop-color="#666666"/><stop offset="0.4393" stop-color="#717171"/><stop offset="0.4458" stop-color="#7b7b7b"/><stop offset="0.4523" stop-color="#858585"/><stop offset="0.4587" stop-color="#909090"/><stop offset="0.4652" stop-color="#9a9a9a"/><stop offset="0.4716" stop-color="#a4a4a4"/><stop offset="0.4781" stop-color="#aeaeae"/><stop offset="0.4846" stop-color="#b8b8b8"/><stop offset="0.4910" stop-color="#c1c1c1"/><stop offset="0.4975" stop-color="#c9c9c9"/><stop offset="0.5039" stop-color="#d2d2d2"/><stop offset="0.5104" stop-color="#d9d9d9"/><stop offset="0.5169" stop-color="#e0e0e0"/><stop offset="0.5233" stop-color="#e6e6e6"/><stop offset="0.5298" stop-color="#ececec"/><stop offset="0.5362" stop-color="#f0f0f0"/><stop offset="0.5427" stop-color="#f4f4f4"/><stop offset="0.5492" stop-color="#f7f7f7"/><stop offset="0.5556" stop-color="#f9f9f9"/><stop offset="0.5621" stop-color="#fafafa"/><stop offset="0.5685" stop-color="#fbfbfb"/><stop offset="0.5750" stop-color="#fafafa"/><stop offset="0.5815" stop-color="#f9f9f9"/><stop offset="0.5879" stop-color="#f6f6f6"/><stop offset="0.5944" stop-color="#f3f3f3"/><stop offset="0.6009" stop-color="#efefef"/><stop offset="0.6073" stop-color="#eaeaea"/><stop offset="0.6138" stop-color="#e4e4e4"/><stop offset="0.6202" stop-color="#dedede"/><stop offset="0.6267" stop-color="#d6d6d6"/><stop offset="0.6332" stop-color="#cfcfcf"/><stop offset="0.6396" stop-color="#c6c6c6"/><stop offset="0.6461" stop-color="#bdbdbd"/><stop offset="0.6525" stop-color="#b4b4b4"/><stop offset="0.6590" stop-color="#aaaaaa"/><stop offset="0.6655" stop-color="#a1a1a1"/><stop offset="0.6719" stop-color="#969696"/><stop offset="0.6784" stop-color="#8c8c8c"/><stop offset="0.6848" stop-color="#828282"/><stop offset="0.6913" stop-color="#777777"/><stop offset="0.6978" stop-color="#6d6d6d"/><stop offset="0.7042" stop-color="#636363"/><stop offset="0.7107" stop-color="#595959"/><stop offset="0.7171" stop-color="#4f4f4f"/><stop offset="0.7236" stop-color="#464646"/><stop offset="0.7301" stop-color="#3d3d3d"/><stop offset="0.7365" stop-color="#353535"/><stop offset="0.7430" stop-color="#2d2d2d"/><stop offset="0.7495" stop-color="#262626"/><stop offset="0.7559" stop-color="#202020"/><stop offset="0.7624" stop-color="#1b1b1b"/><stop offset="0.7688" stop-color="#161616"/><stop offset="0.7753" stop-color="#121212"/><stop offset="0.7818" stop-color="#0f0f0f"/><stop offset="0.7882" stop-color="#0d0d0d"/><stop offset="0.7947" stop-color="#0b0b0b"/><stop offset="0.8011" stop-color="#0b0b0b"/><stop offset="0.8076" stop-color="#0b0b0b"/><stop offset="0.8141" stop-color="#0d0d0d"/><stop offset="0.8205" stop-color="#0f0f0f"/><stop offset="0.8270" stop-color="#121212"/><stop offset="0.8310" stop-color="#151515"/><stop offset="0.8465" stop-color="#121212"/><stop offset="0.8594" stop-color="#1f1f1f"/><stop offset="0.8685" stop-color="#333333"/><stop offset="0.8760" stop-color="#545454"/><stop offset="0.8827" stop-color="#707070"/><stop offset="0.8930" stop-color="#949494"/><stop offset="0.9015" stop-color="#a8a8a8"/><stop offset="0.9137" stop-color="#b0b0b0"/><stop offset="0.9263" stop-color="#bababa"/><stop offset="0.9395" stop-color="#c7c7c7"/><stop offset="0.9514" stop-color="#d4d4d4"/><stop offset="0.9628" stop-color="#dedede"/><stop offset="0.9747" stop-color="#dedede"/><stop offset="1.0003" stop-color="#d9d9d9"/></linearGradient><radialGradient id="b3_0" gradientUnits="userSpaceOnUse" cx="0" cy="0" r="1" gradientTransform="translate(451.30 848.00) scale(16.00 11.00)"><stop offset="0.00" stop-color="#000000" stop-opacity="0.900"/><stop offset="0.40" stop-color="#000000" stop-opacity="0.810"/><stop offset="0.65" stop-color="#000000" stop-opacity="0.495"/><stop offset="0.85" stop-color="#000000" stop-opacity="0.162"/><stop offset="1.00" stop-color="#000000" stop-opacity="0.000"/></radialGradient><radialGradient id="b3_1" gradientUnits="userSpaceOnUse" cx="0" cy="0" r="1" gradientTransform="translate(451.30 862.00) scale(11.00 8.00)"><stop offset="0.00" stop-color="#8c8c8c" stop-opacity="0.950"/><stop offset="0.40" stop-color="#8c8c8c" stop-opacity="0.855"/><stop offset="0.65" stop-color="#8c8c8c" stop-opacity="0.522"/><stop offset="0.85" stop-color="#8c8c8c" stop-opacity="0.171"/><stop offset="1.00" stop-color="#8c8c8c" stop-opacity="0.000"/></radialGradient><radialGradient id="b3_2" gradientUnits="userSpaceOnUse" cx="0" cy="0" r="1" gradientTransform="translate(451.30 868.00) scale(13.00 7.00)"><stop offset="0.00" stop-color="#ababab" stop-opacity="0.950"/><stop offset="0.40" stop-color="#ababab" stop-opacity="0.855"/><stop offset="0.65" stop-color="#ababab" stop-opacity="0.522"/><stop offset="0.85" stop-color="#ababab" stop-opacity="0.171"/><stop offset="1.00" stop-color="#ababab" stop-opacity="0.000"/></radialGradient><clipPath id="c3"><rect x="427.10" y="524.45" width="48.40" height="386.95"/></clipPath></defs>
<g filter="url(#jet)"><g clip-path="url(#c3)">
<rect x="427.10" y="524.45" width="48.40" height="386.95" fill="url(#g3)"/>
<ellipse cx="451.30" cy="848.00" rx="16.00" ry="11.00" fill="url(#b3_0)"/>
<ellipse cx="451.30" cy="862.00" rx="11.00" ry="8.00" fill="url(#b3_1)"/>
<ellipse cx="451.30" cy="868.00" rx="13.00" ry="7.00" fill="url(#b3_2)"/>
</g></g>
<path d="M427.10 863.40 H475.50 M427.10 873.30 H475.50 M427.10 882.90 H475.50 M427.10 892.60 H475.50 M427.10 901.60 H475.50 M439.40 863.40 A11.90 12.70 0 0 1 463.20 863.40" fill="none" stroke="#000" stroke-width="1.1" stroke-opacity="0.72"/>
<rect x="427.10" y="524.45" width="48.40" height="386.95" fill="none" stroke="#000" stroke-width="1.1" stroke-opacity="0.75" rx="1"/>
<g filter="url(#jet)"><rect x="496.95" y="539.50" width="9.80" height="375.70" fill="url(#cbg)"/></g>
<rect x="496.95" y="539.50" width="9.80" height="375.70" fill="none" stroke="#222" stroke-width="0.9" stroke-opacity="0.9"/>
<text x="511.05" y="555.00" class="cb">600</text>
<text x="511.05" y="612.85" class="cb">400</text>
<text x="511.05" y="670.70" class="cb">200</text>
<text x="511.05" y="728.55" class="cb">0</text>
<text x="511.05" y="786.40" class="cb">-200</text>
<text x="511.05" y="844.25" class="cb">-400</text>
<text x="511.05" y="902.10" class="cb">-600</text>
<path d="M496.95 548.65 h1.6 M506.75 548.65 h-1.6 M496.95 606.50 h1.6 M506.75 606.50 h-1.6 M496.95 664.35 h1.6 M506.75 664.35 h-1.6 M496.95 722.20 h1.6 M506.75 722.20 h-1.6 M496.95 780.05 h1.6 M506.75 780.05 h-1.6 M496.95 837.90 h1.6 M506.75 837.90 h-1.6 M496.95 895.75 h1.6 M506.75 895.75 h-1.6" stroke="#111" stroke-width="1" fill="none"/>
<text class="pn" x="451.2" y="956.2" text-anchor="middle">4</text>
</g>
<g id="panel5">
<defs><linearGradient id="g4" gradientUnits="userSpaceOnUse" x1="0" y1="524.45" x2="0" y2="911.40"><stop offset="0.0000" stop-color="#c4c4c4"/><stop offset="0.0065" stop-color="#d4d4d4"/><stop offset="0.0129" stop-color="#e2e2e2"/><stop offset="0.0194" stop-color="#ededed"/><stop offset="0.0258" stop-color="#f6f6f6"/><stop offset="0.0323" stop-color="#fbfbfb"/><stop offset="0.0388" stop-color="#fdfdfd"/><stop offset="0.0452" stop-color="#fcfcfc"/><stop offset="0.0517" stop-color="#f7f7f7"/><stop offset="0.0581" stop-color="#efefef"/><stop offset="0.0646" stop-color="#e4e4e4"/><stop offset="0.0711" stop-color="#d7d7d7"/><stop offset="0.0775" stop-color="#c7c7c7"/><stop offset="0.0840" stop-color="#b6b6b6"/><stop offset="0.0905" stop-color="#a3a3a3"/><stop offset="0.0969" stop-color="#909090"/><stop offset="0.1034" stop-color="#7c7c7c"/><stop offset="0.1098" stop-color="#696969"/><stop offset="0.1163" stop-color="#575757"/><stop offset="0.1228" stop-color="#474747"/><stop offset="0.1292" stop-color="#393939"/><stop offset="0.1357" stop-color="#2d2d2d"/><stop offset="0.1421" stop-color="#252525"/><stop offset="0.1486" stop-color="#1f1f1f"/><stop offset="0.1551" stop-color="#1d1d1d"/><stop offset="0.1615" stop-color="#1e1e1e"/><stop offset="0.1680" stop-color="#222222"/><stop offset="0.1744" stop-color="#2a2a2a"/><stop offset="0.1809" stop-color="#343434"/><stop offset="0.1874" stop-color="#414141"/><stop offset="0.1938" stop-color="#515151"/><stop offset="0.2003" stop-color="#626262"/><stop offset="0.2067" stop-color="#757575"/><stop offset="0.2132" stop-color="#888888"/><stop offset="0.2197" stop-color="#9b9b9b"/><stop offset="0.2261" stop-color="#aeaeae"/><stop offset="0.2326" stop-color="#c0c0c0"/><stop offset="0.2390" stop-color="#d1d1d1"/><stop offset="0.2455" stop-color="#dfdfdf"/><stop offset="0.2520" stop-color="#ebebeb"/><stop offset="0.2584" stop-color="#f4f4f4"/><stop offset="0.2649" stop-color="#fafafa"/><stop offset="0.2714" stop-color="#fdfdfd"/><stop offset="0.2778" stop-color="#fcfcfc"/><stop offset="0.2843" stop-color="#f8f8f8"/><stop offset="0.2907" stop-color="#f1f1f1"/><stop offset="0.2972" stop-color="#e7e7e7"/><stop offset="0.3037" stop-color="#dadada"/><stop offset="0.3101" stop-color="#cacaca"/><stop offset="0.3166" stop-color="#b9b9b9"/><stop offset="0.3230" stop-color="#a7a7a7"/><stop offset="0.3295" stop-color="#949494"/><stop offset="0.3360" stop-color="#808080"/><stop offset="0.3424" stop-color="#6d6d6d"/><stop offset="0.3489" stop-color="#5b5b5b"/><stop offset="0.3553" stop-color="#4a4a4a"/><stop offset="0.3618" stop-color="#3c3c3c"/><stop offset="0.3683" stop-color="#303030"/><stop offset="0.3747" stop-color="#262626"/><stop offset="0.3812" stop-color="#202020"/><stop offset="0.3876" stop-color="#1d1d1d"/><stop offset="0.3941" stop-color="#1d1d1d"/><stop offset="0.4006" stop-color="#212121"/><stop offset="0.4070" stop-color="#282828"/><stop offset="0.4135" stop-color="#323232"/><stop offset="0.4200" stop-color="#3e3e3e"/><stop offset="0.4264" stop-color="#4e4e4e"/><stop offset="0.4329" stop-color="#5e5e5e"/><stop offset="0.4393" stop-color="#717171"/><stop offset="0.4458" stop-color="#848484"/><stop offset="0.4523" stop-color="#979797"/><stop offset="0.4587" stop-color="#ababab"/><stop offset="0.4652" stop-color="#bdbdbd"/><stop offset="0.4716" stop-color="#cecece"/><stop offset="0.4781" stop-color="#dcdcdc"/><stop offset="0.4846" stop-color="#e9e9e9"/><stop offset="0.4910" stop-color="#f3f3f3"/><stop offset="0.4975" stop-color="#f9f9f9"/><stop offset="0.5039" stop-color="#fdfdfd"/><stop offset="0.5104" stop-color="#fdfdfd"/><stop offset="0.5169" stop-color="#f9f9f9"/><stop offset="0.5233" stop-color="#f3f3f3"/><stop offset="0.5298" stop-color="#e9e9e9"/><stop offset="0.5362" stop-color="#dcdcdc"/><stop offset="0.5427" stop-color="#cecece"/><stop offset="0.5492" stop-color="#bdbdbd"/><stop offset="0.5556" stop-color="#ababab"/><stop offset="0.5621" stop-color="#979797"/><stop offset="0.5685" stop-color="#848484"/><stop offset="0.5750" stop-color="#717171"/><stop offset="0.5815" stop-color="#5e5e5e"/><stop offset="0.5879" stop-color="#4e4e4e"/><stop offset="0.5944" stop-color="#3e3e3e"/><stop offset="0.6009" stop-color="#323232"/><stop offset="0.6073" stop-color="#282828"/><stop offset="0.6138" stop-color="#212121"/><stop offset="0.6202" stop-color="#1d1d1d"/><stop offset="0.6267" stop-color="#1d1d1d"/><stop offset="0.6332" stop-color="#202020"/><stop offset="0.6396" stop-color="#262626"/><stop offset="0.6461" stop-color="#303030"/><stop offset="0.6525" stop-color="#3c3c3c"/><stop offset="0.6590" stop-color="#4a4a4a"/><stop offset="0.6655" stop-color="#5b5b5b"/><stop offset="0.6719" stop-color="#6d6d6d"/><stop offset="0.6784" stop-color="#808080"/><stop offset="0.6848" stop-color="#949494"/><stop offset="0.6913" stop-color="#a7a7a7"/><stop offset="0.6978" stop-color="#b9b9b9"/><stop offset="0.7042" stop-color="#cacaca"/><stop offset="0.7107" stop-color="#dadada"/><stop offset="0.7171" stop-color="#e7e7e7"/><stop offset="0.7236" stop-color="#f1f1f1"/><stop offset="0.7301" stop-color="#f8f8f8"/><stop offset="0.7365" stop-color="#fcfcfc"/><stop offset="0.7430" stop-color="#fdfdfd"/><stop offset="0.7495" stop-color="#fafafa"/><stop offset="0.7559" stop-color="#f4f4f4"/><stop offset="0.7624" stop-color="#ebebeb"/><stop offset="0.7688" stop-color="#dfdfdf"/><stop offset="0.7753" stop-color="#d1d1d1"/><stop offset="0.7818" stop-color="#c0c0c0"/><stop offset="0.7882" stop-color="#aeaeae"/><stop offset="0.7947" stop-color="#9b9b9b"/><stop offset="0.8011" stop-color="#888888"/><stop offset="0.8076" stop-color="#757575"/><stop offset="0.8141" stop-color="#626262"/><stop offset="0.8205" stop-color="#515151"/><stop offset="0.8270" stop-color="#414141"/><stop offset="0.8334" stop-color="#343434"/><stop offset="0.8399" stop-color="#2a2a2a"/><stop offset="0.8464" stop-color="#222222"/><stop offset="0.8528" stop-color="#1e1e1e"/><stop offset="0.8593" stop-color="#1d1d1d"/><stop offset="0.8657" stop-color="#1f1f1f"/><stop offset="0.8672" stop-color="#202020"/><stop offset="0.8760" stop-color="#1f1f1f"/><stop offset="0.8827" stop-color="#383838"/><stop offset="0.8930" stop-color="#5c5c5c"/><stop offset="0.9015" stop-color="#757575"/><stop offset="0.9137" stop-color="#858585"/><stop offset="0.9266" stop-color="#909090"/><stop offset="0.9395" stop-color="#959595"/><stop offset="0.9747" stop-color="#959595"/><stop offset="0.9860" stop-color="#909090"/><stop offset="1.0003" stop-color="#8e8e8e"/></linearGradient><radialGradient id="b4_0" gradientUnits="userSpaceOnUse" cx="0" cy="0" r="1" gradientTransform="translate(582.55 860.00) scale(12.50 12.00)"><stop offset="0.00" stop-color="#9e9e9e" stop-opacity="0.950"/><stop offset="0.40" stop-color="#9e9e9e" stop-opacity="0.855"/><stop offset="0.65" stop-color="#9e9e9e" stop-opacity="0.522"/><stop offset="0.85" stop-color="#9e9e9e" stop-opacity="0.171"/><stop offset="1.00" stop-color="#9e9e9e" stop-opacity="0.000"/></radialGradient><radialGradient id="b4_1" gradientUnits="userSpaceOnUse" cx="0" cy="0" r="1" gradientTransform="translate(582.55 867.00) scale(11.50 9.50)"><stop offset="0.00" stop-color="#cccccc" stop-opacity="1.000"/><stop offset="0.40" stop-color="#cccccc" stop-opacity="0.900"/><stop offset="0.65" stop-color="#cccccc" stop-opacity="0.550"/><stop offset="0.85" stop-color="#cccccc" stop-opacity="0.180"/><stop offset="1.00" stop-color="#cccccc" stop-opacity="0.000"/></radialGradient><radialGradient id="b4_2" gradientUnits="userSpaceOnUse" cx="0" cy="0" r="1" gradientTransform="translate(582.55 864.40) scale(12.50 3.40)"><stop offset="0.00" stop-color="#ffffff" stop-opacity="1.000"/><stop offset="0.40" stop-color="#ffffff" stop-opacity="0.900"/><stop offset="0.65" stop-color="#ffffff" stop-opacity="0.550"/><stop offset="0.85" stop-color="#ffffff" stop-opacity="0.180"/><stop offset="1.00" stop-color="#ffffff" stop-opacity="0.000"/></radialGradient><radialGradient id="b4_3" gradientUnits="userSpaceOnUse" cx="0" cy="0" r="1" gradientTransform="translate(582.55 881.00) scale(16.00 8.00)"><stop offset="0.00" stop-color="#999999" stop-opacity="0.500"/><stop offset="0.40" stop-color="#999999" stop-opacity="0.450"/><stop offset="0.65" stop-color="#999999" stop-opacity="0.275"/><stop offset="0.85" stop-color="#999999" stop-opacity="0.090"/><stop offset="1.00" stop-color="#999999" stop-opacity="0.000"/></radialGradient><clipPath id="c4"><rect x="558.35" y="524.45" width="48.40" height="386.95"/></clipPath></defs>
<g filter="url(#jet)"><g clip-path="url(#c4)">
<rect x="558.35" y="524.45" width="48.40" height="386.95" fill="url(#g4)"/>
<ellipse cx="582.55" cy="860.00" rx="12.50" ry="12.00" fill="url(#b4_0)"/>
<ellipse cx="582.55" cy="867.00" rx="11.50" ry="9.50" fill="url(#b4_1)"/>
<ellipse cx="582.55" cy="864.40" rx="12.50" ry="3.40" fill="url(#b4_2)"/>
<ellipse cx="582.55" cy="881.00" rx="16.00" ry="8.00" fill="url(#b4_3)"/>
</g></g>
<path d="M558.35 863.40 H606.75 M558.35 873.30 H606.75 M558.35 882.90 H606.75 M558.35 892.60 H606.75 M558.35 901.60 H606.75 M570.65 863.40 A11.90 12.70 0 0 1 594.45 863.40" fill="none" stroke="#000" stroke-width="1.1" stroke-opacity="0.72"/>
<rect x="558.35" y="524.45" width="48.40" height="386.95" fill="none" stroke="#000" stroke-width="1.1" stroke-opacity="0.75" rx="1"/>
<g filter="url(#jet)"><rect x="628.20" y="539.50" width="9.80" height="375.70" fill="url(#cbg)"/></g>
<rect x="628.20" y="539.50" width="9.80" height="375.70" fill="none" stroke="#222" stroke-width="0.9" stroke-opacity="0.9"/>
<text x="642.30" y="572.70" class="cb">150</text>
<text x="642.30" y="620.75" class="cb">100</text>
<text x="642.30" y="668.80" class="cb">50</text>
<text x="642.30" y="716.85" class="cb">0</text>
<text x="642.30" y="764.90" class="cb">-50</text>
<text x="642.30" y="812.95" class="cb">-100</text>
<text x="642.30" y="861.00" class="cb">-150</text>
<text x="642.30" y="909.05" class="cb">-200</text>
<path d="M628.20 566.35 h1.6 M638.00 566.35 h-1.6 M628.20 614.40 h1.6 M638.00 614.40 h-1.6 M628.20 662.45 h1.6 M638.00 662.45 h-1.6 M628.20 710.50 h1.6 M638.00 710.50 h-1.6 M628.20 758.55 h1.6 M638.00 758.55 h-1.6 M628.20 806.60 h1.6 M638.00 806.60 h-1.6 M628.20 854.65 h1.6 M638.00 854.65 h-1.6 M628.20 902.70 h1.6 M638.00 902.70 h-1.6" stroke="#111" stroke-width="1" fill="none"/>
<text class="pn" x="585.0" y="956.2" text-anchor="middle">5</text>
</g>
<g id="panel6">
<defs><linearGradient id="g5" gradientUnits="userSpaceOnUse" x1="0" y1="524.45" x2="0" y2="911.40"><stop offset="0.0000" stop-color="#e0e0e0"/><stop offset="0.0065" stop-color="#d7d7d7"/><stop offset="0.0129" stop-color="#cccccc"/><stop offset="0.0194" stop-color="#c1c1c1"/><stop offset="0.0258" stop-color="#b4b4b4"/><stop offset="0.0323" stop-color="#a7a7a7"/><stop offset="0.0388" stop-color="#9a9a9a"/><stop offset="0.0452" stop-color="#8c8c8c"/><stop offset="0.0517" stop-color="#7f7f7f"/><stop offset="0.0581" stop-color="#717171"/><stop offset="0.0646" stop-color="#646464"/><stop offset="0.0711" stop-color="#575757"/><stop offset="0.0775" stop-color="#4b4b4b"/><stop offset="0.0840" stop-color="#3f3f3f"/><stop offset="0.0905" stop-color="#353535"/><stop offset="0.0969" stop-color="#2c2c2c"/><stop offset="0.1034" stop-color="#242424"/><stop offset="0.1098" stop-color="#1d1d1d"/><stop offset="0.1163" stop-color="#181818"/><stop offset="0.1228" stop-color="#141414"/><stop offset="0.1292" stop-color="#121212"/><stop offset="0.1357" stop-color="#121212"/><stop offset="0.1421" stop-color="#131313"/><stop offset="0.1486" stop-color="#161616"/><stop offset="0.1551" stop-color="#1a1a1a"/><stop offset="0.1615" stop-color="#202020"/><stop offset="0.1680" stop-color="#272727"/><stop offset="0.1744" stop-color="#303030"/><stop offset="0.1809" stop-color="#393939"/><stop offset="0.1874" stop-color="#444444"/><stop offset="0.1938" stop-color="#505050"/><stop offset="0.2003" stop-color="#5c5c5c"/><stop offset="0.2067" stop-color="#696969"/><stop offset="0.2132" stop-color="#777777"/><stop offset="0.2197" stop-color="#858585"/><stop offset="0.2261" stop-color="#929292"/><stop offset="0.2326" stop-color="#a0a0a0"/><stop offset="0.2390" stop-color="#adadad"/><stop offset="0.2455" stop-color="#bababa"/><stop offset="0.2520" stop-color="#c6c6c6"/><stop offset="0.2584" stop-color="#d1d1d1"/><stop offset="0.2649" stop-color="#dbdbdb"/><stop offset="0.2714" stop-color="#e4e4e4"/><stop offset="0.2778" stop-color="#ececec"/><stop offset="0.2843" stop-color="#f2f2f2"/><stop offset="0.2907" stop-color="#f7f7f7"/><stop offset="0.2972" stop-color="#fafafa"/><stop offset="0.3037" stop-color="#fcfcfc"/><stop offset="0.3101" stop-color="#fcfcfc"/><stop offset="0.3166" stop-color="#fbfbfb"/><stop offset="0.3230" stop-color="#f8f8f8"/><stop offset="0.3295" stop-color="#f3f3f3"/><stop offset="0.3360" stop-color="#ededed"/><stop offset="0.3424" stop-color="#e6e6e6"/><stop offset="0.3489" stop-color="#dddddd"/><stop offset="0.3553" stop-color="#d3d3d3"/><stop offset="0.3618" stop-color="#c8c8c8"/><stop offset="0.3683" stop-color="#bcbcbc"/><stop offset="0.3747" stop-color="#afafaf"/><stop offset="0.3812" stop-color="#a2a2a2"/><stop offset="0.3876" stop-color="#959595"/><stop offset="0.3941" stop-color="#878787"/><stop offset="0.4006" stop-color="#797979"/><stop offset="0.4070" stop-color="#6c6c6c"/><stop offset="0.4135" stop-color="#5e5e5e"/><stop offset="0.4200" stop-color="#525252"/><stop offset="0.4264" stop-color="#464646"/><stop offset="0.4329" stop-color="#3b3b3b"/><stop offset="0.4393" stop-color="#313131"/><stop offset="0.4458" stop-color="#282828"/><stop offset="0.4523" stop-color="#212121"/><stop offset="0.4587" stop-color="#1b1b1b"/><stop offset="0.4652" stop-color="#161616"/><stop offset="0.4716" stop-color="#131313"/><stop offset="0.4781" stop-color="#121212"/><stop offset="0.4846" stop-color="#121212"/><stop offset="0.4910" stop-color="#141414"/><stop offset="0.4975" stop-color="#171717"/><stop offset="0.5039" stop-color="#1c1c1c"/><stop offset="0.5104" stop-color="#232323"/><stop offset="0.5169" stop-color="#2a2a2a"/><stop offset="0.5233" stop-color="#333333"/><stop offset="0.5298" stop-color="#3e3e3e"/><stop offset="0.5362" stop-color="#494949"/><stop offset="0.5427" stop-color="#555555"/><stop offset="0.5492" stop-color="#626262"/><stop offset="0.5556" stop-color="#6f6f6f"/><stop offset="0.5621" stop-color="#7c7c7c"/><stop offset="0.5685" stop-color="#8a8a8a"/><stop offset="0.5750" stop-color="#989898"/><stop offset="0.5815" stop-color="#a5a5a5"/><stop offset="0.5879" stop-color="#b2b2b2"/><stop offset="0.5944" stop-color="#bfbfbf"/><stop offset="0.6009" stop-color="#cbcbcb"/><stop offset="0.6073" stop-color="#d5d5d5"/><stop offset="0.6138" stop-color="#dfdfdf"/><stop offset="0.6202" stop-color="#e7e7e7"/><stop offset="0.6267" stop-color="#efefef"/><stop offset="0.6332" stop-color="#f4f4f4"/><stop offset="0.6396" stop-color="#f9f9f9"/><stop offset="0.6461" stop-color="#fbfbfb"/><stop offset="0.6525" stop-color="#fcfcfc"/><stop offset="0.6590" stop-color="#fcfcfc"/><stop offset="0.6655" stop-color="#fafafa"/><stop offset="0.6719" stop-color="#f6f6f6"/><stop offset="0.6784" stop-color="#f1f1f1"/><stop offset="0.6848" stop-color="#eaeaea"/><stop offset="0.6913" stop-color="#e2e2e2"/><stop offset="0.6978" stop-color="#d9d9d9"/><stop offset="0.7042" stop-color="#cfcfcf"/><stop offset="0.7107" stop-color="#c3c3c3"/><stop offset="0.7171" stop-color="#b7b7b7"/><stop offset="0.7236" stop-color="#aaaaaa"/><stop offset="0.7301" stop-color="#9d9d9d"/><stop offset="0.7365" stop-color="#8f8f8f"/><stop offset="0.7430" stop-color="#818181"/><stop offset="0.7495" stop-color="#747474"/><stop offset="0.7559" stop-color="#666666"/><stop offset="0.7624" stop-color="#595959"/><stop offset="0.7688" stop-color="#4d4d4d"/><stop offset="0.7753" stop-color="#424242"/><stop offset="0.7818" stop-color="#373737"/><stop offset="0.7882" stop-color="#2e2e2e"/><stop offset="0.7947" stop-color="#252525"/><stop offset="0.8011" stop-color="#1e1e1e"/><stop offset="0.8076" stop-color="#191919"/><stop offset="0.8141" stop-color="#151515"/><stop offset="0.8205" stop-color="#131313"/><stop offset="0.8270" stop-color="#121212"/><stop offset="0.8334" stop-color="#131313"/><stop offset="0.8399" stop-color="#151515"/><stop offset="0.8413" stop-color="#161616"/><stop offset="0.8581" stop-color="#2b2b2b"/><stop offset="0.8672" stop-color="#3d3d3d"/><stop offset="0.8760" stop-color="#545454"/><stop offset="0.8840" stop-color="#737373"/><stop offset="0.8930" stop-color="#949494"/><stop offset="0.9015" stop-color="#b2b2b2"/><stop offset="0.9137" stop-color="#cccccc"/><stop offset="0.9263" stop-color="#c9c9c9"/><stop offset="0.9395" stop-color="#c2c2c2"/><stop offset="0.9514" stop-color="#b5b5b5"/><stop offset="0.9628" stop-color="#a6a6a6"/><stop offset="0.9747" stop-color="#919191"/><stop offset="0.9860" stop-color="#787878"/><stop offset="1.0003" stop-color="#616161"/></linearGradient><radialGradient id="b5_0" gradientUnits="userSpaceOnUse" cx="0" cy="0" r="1" gradientTransform="translate(716.20 850.50) scale(16.00 10.00)"><stop offset="0.00" stop-color="#000000" stop-opacity="0.850"/><stop offset="0.40" stop-color="#000000" stop-opacity="0.765"/><stop offset="0.65" stop-color="#000000" stop-opacity="0.468"/><stop offset="0.85" stop-color="#000000" stop-opacity="0.153"/><stop offset="1.00" stop-color="#000000" stop-opacity="0.000"/></radialGradient><radialGradient id="b5_1" gradientUnits="userSpaceOnUse" cx="0" cy="0" r="1" gradientTransform="translate(716.20 860.50) scale(11.00 8.00)"><stop offset="0.00" stop-color="#999999" stop-opacity="0.950"/><stop offset="0.40" stop-color="#999999" stop-opacity="0.855"/><stop offset="0.65" stop-color="#999999" stop-opacity="0.522"/><stop offset="0.85" stop-color="#999999" stop-opacity="0.171"/><stop offset="1.00" stop-color="#999999" stop-opacity="0.000"/></radialGradient><radialGradient id="b5_2" gradientUnits="userSpaceOnUse" cx="0" cy="0" r="1" gradientTransform="translate(716.20 872.00) scale(16.00 8.00)"><stop offset="0.00" stop-color="#e0e0e0" stop-opacity="0.700"/><stop offset="0.40" stop-color="#e0e0e0" stop-opacity="0.630"/><stop offset="0.65" stop-color="#e0e0e0" stop-opacity="0.385"/><stop offset="0.85" stop-color="#e0e0e0" stop-opacity="0.126"/><stop offset="1.00" stop-color="#e0e0e0" stop-opacity="0.000"/></radialGradient><radialGradient id="b5_3" gradientUnits="userSpaceOnUse" cx="0" cy="0" r="1" gradientTransform="translate(716.20 865.50) scale(12.00 6.50)"><stop offset="0.00" stop-color="#ffffff" stop-opacity="1.000"/><stop offset="0.40" stop-color="#ffffff" stop-opacity="0.900"/><stop offset="0.65" stop-color="#ffffff" stop-opacity="0.550"/><stop offset="0.85" stop-color="#ffffff" stop-opacity="0.180"/><stop offset="1.00" stop-color="#ffffff" stop-opacity="0.000"/></radialGradient><clipPath id="c5"><rect x="692.00" y="524.45" width="48.40" height="386.95"/></clipPath></defs>
<g filter="url(#jet)"><g clip-path="url(#c5)">
<rect x="692.00" y="524.45" width="48.40" height="386.95" fill="url(#g5)"/>
<ellipse cx="716.20" cy="850.50" rx="16.00" ry="10.00" fill="url(#b5_0)"/>
<ellipse cx="716.20" cy="860.50" rx="11.00" ry="8.00" fill="url(#b5_1)"/>
<ellipse cx="716.20" cy="872.00" rx="16.00" ry="8.00" fill="url(#b5_2)"/>
<ellipse cx="716.20" cy="865.50" rx="12.00" ry="6.50" fill="url(#b5_3)"/>
</g></g>
<path d="M692.00 863.40 H740.40 M692.00 873.30 H740.40 M692.00 882.90 H740.40 M692.00 892.60 H740.40 M692.00 901.60 H740.40 M704.30 863.40 A11.90 12.70 0 0 1 728.10 863.40" fill="none" stroke="#000" stroke-width="1.1" stroke-opacity="0.72"/>
<rect x="692.00" y="524.45" width="48.40" height="386.95" fill="none" stroke="#000" stroke-width="1.1" stroke-opacity="0.75" rx="1"/>
<g filter="url(#jet)"><rect x="761.85" y="539.50" width="9.80" height="375.70" fill="url(#cbg)"/></g>
<rect x="761.85" y="539.50" width="9.80" height="375.70" fill="none" stroke="#222" stroke-width="0.9" stroke-opacity="0.9"/>
<text x="775.95" y="597.35" class="cb">100</text>
<text x="775.95" y="659.95" class="cb">50</text>
<text x="775.95" y="722.55" class="cb">0</text>
<text x="775.95" y="785.15" class="cb">-50</text>
<text x="775.95" y="847.75" class="cb">-100</text>
<text x="775.95" y="910.35" class="cb">-150</text>
<path d="M761.85 591.00 h1.6 M771.65 591.00 h-1.6 M761.85 653.60 h1.6 M771.65 653.60 h-1.6 M761.85 716.20 h1.6 M771.65 716.20 h-1.6 M761.85 778.80 h1.6 M771.65 778.80 h-1.6 M761.85 841.40 h1.6 M771.65 841.40 h-1.6 M761.85 904.00 h1.6 M771.65 904.00 h-1.6" stroke="#111" stroke-width="1" fill="none"/>
<text class="pn" x="716.3" y="956.2" text-anchor="middle">6</text>
</g>
<g id="panel7">
<defs><linearGradient id="g6" gradientUnits="userSpaceOnUse" x1="0" y1="524.45" x2="0" y2="911.40"><stop offset="0.0000" stop-color="#c2c2c2"/><stop offset="0.0065" stop-color="#c8c8c8"/><stop offset="0.0129" stop-color="#cecece"/><stop offset="0.0194" stop-color="#d3d3d3"/><stop offset="0.0258" stop-color="#d8d8d8"/><stop offset="0.0323" stop-color="#dddddd"/><stop offset="0.0388" stop-color="#e1e1e1"/><stop offset="0.0452" stop-color="#e5e5e5"/><stop offset="0.0517" stop-color="#e9e9e9"/><stop offset="0.0581" stop-color="#ececec"/><stop offset="0.0646" stop-color="#efefef"/><stop offset="0.0711" stop-color="#f2f2f2"/><stop offset="0.0775" stop-color="#f3f3f3"/><stop offset="0.0840" stop-color="#f5f5f5"/><stop offset="0.0905" stop-color="#f6f6f6"/><stop offset="0.0969" stop-color="#f6f6f6"/><stop offset="0.1034" stop-color="#f7f7f7"/><stop offset="0.1098" stop-color="#f6f6f6"/><stop offset="0.1163" stop-color="#f5f5f5"/><stop offset="0.1228" stop-color="#f4f4f4"/><stop offset="0.1292" stop-color="#f2f2f2"/><stop offset="0.1357" stop-color="#f0f0f0"/><stop offset="0.1421" stop-color="#ededed"/><stop offset="0.1486" stop-color="#eaeaea"/><stop offset="0.1551" stop-color="#e6e6e6"/><stop offset="0.1615" stop-color="#e2e2e2"/><stop offset="0.1680" stop-color="#dedede"/><stop offset="0.1744" stop-color="#d9d9d9"/><stop offset="0.1809" stop-color="#d4d4d4"/><stop offset="0.1874" stop-color="#cfcfcf"/><stop offset="0.1938" stop-color="#c9c9c9"/><stop offset="0.2003" stop-color="#c4c4c4"/><stop offset="0.2067" stop-color="#bdbdbd"/><stop offset="0.2132" stop-color="#b7b7b7"/><stop offset="0.2197" stop-color="#b1b1b1"/><stop offset="0.2261" stop-color="#aaaaaa"/><stop offset="0.2326" stop-color="#a3a3a3"/><stop offset="0.2390" stop-color="#9c9c9c"/><stop offset="0.2455" stop-color="#959595"/><stop offset="0.2520" stop-color="#8f8f8f"/><stop offset="0.2584" stop-color="#888888"/><stop offset="0.2649" stop-color="#818181"/><stop offset="0.2714" stop-color="#7a7a7a"/><stop offset="0.2778" stop-color="#737373"/><stop offset="0.2843" stop-color="#6d6d6d"/><stop offset="0.2907" stop-color="#676767"/><stop offset="0.2972" stop-color="#606060"/><stop offset="0.3037" stop-color="#5b5b5b"/><stop offset="0.3101" stop-color="#555555"/><stop offset="0.3166" stop-color="#505050"/><stop offset="0.3230" stop-color="#4a4a4a"/><stop offset="0.3295" stop-color="#464646"/><stop offset="0.3360" stop-color="#414141"/><stop offset="0.3424" stop-color="#3d3d3d"/><stop offset="0.3489" stop-color="#3a3a3a"/><stop offset="0.3553" stop-color="#373737"/><stop offset="0.3618" stop-color="#343434"/><stop offset="0.3683" stop-color="#323232"/><stop offset="0.3747" stop-color="#303030"/><stop offset="0.3812" stop-color="#2f2f2f"/><stop offset="0.3876" stop-color="#2e2e2e"/><stop offset="0.3941" stop-color="#2d2d2d"/><stop offset="0.4006" stop-color="#2d2d2d"/><stop offset="0.4070" stop-color="#2e2e2e"/><stop offset="0.4135" stop-color="#2f2f2f"/><stop offset="0.4200" stop-color="#303030"/><stop offset="0.4264" stop-color="#323232"/><stop offset="0.4329" stop-color="#343434"/><stop offset="0.4393" stop-color="#373737"/><stop offset="0.4458" stop-color="#3a3a3a"/><stop offset="0.4523" stop-color="#3e3e3e"/><stop offset="0.4587" stop-color="#424242"/><stop offset="0.4652" stop-color="#474747"/><stop offset="0.4716" stop-color="#4b4b4b"/><stop offset="0.4781" stop-color="#505050"/><stop offset="0.4846" stop-color="#565656"/><stop offset="0.4910" stop-color="#5b5b5b"/><stop offset="0.4975" stop-color="#616161"/><stop offset="0.5039" stop-color="#686868"/><stop offset="0.5104" stop-color="#6e6e6e"/><stop offset="0.5169" stop-color="#747474"/><stop offset="0.5233" stop-color="#7b7b7b"/><stop offset="0.5298" stop-color="#828282"/><stop offset="0.5362" stop-color="#898989"/><stop offset="0.5427" stop-color="#909090"/><stop offset="0.5492" stop-color="#979797"/><stop offset="0.5556" stop-color="#9d9d9d"/><stop offset="0.5621" stop-color="#a4a4a4"/><stop offset="0.5685" stop-color="#ababab"/><stop offset="0.5750" stop-color="#b2b2b2"/><stop offset="0.5815" stop-color="#b8b8b8"/><stop offset="0.5879" stop-color="#bebebe"/><stop offset="0.5944" stop-color="#c5c5c5"/><stop offset="0.6009" stop-color="#cacaca"/><stop offset="0.6073" stop-color="#d0d0d0"/><stop offset="0.6138" stop-color="#d5d5d5"/><stop offset="0.6202" stop-color="#dadada"/><stop offset="0.6267" stop-color="#dfdfdf"/><stop offset="0.6332" stop-color="#e3e3e3"/><stop offset="0.6396" stop-color="#e7e7e7"/><stop offset="0.6461" stop-color="#eaeaea"/><stop offset="0.6525" stop-color="#eeeeee"/><stop offset="0.6590" stop-color="#f0f0f0"/><stop offset="0.6655" stop-color="#f2f2f2"/><stop offset="0.6719" stop-color="#f4f4f4"/><stop offset="0.6784" stop-color="#f5f5f5"/><stop offset="0.6848" stop-color="#f6f6f6"/><stop offset="0.6913" stop-color="#f7f7f7"/><stop offset="0.6978" stop-color="#f6f6f6"/><stop offset="0.7042" stop-color="#f6f6f6"/><stop offset="0.7107" stop-color="#f5f5f5"/><stop offset="0.7171" stop-color="#f3f3f3"/><stop offset="0.7236" stop-color="#f1f1f1"/><stop offset="0.7250" stop-color="#f1f1f1"/><stop offset="0.7560" stop-color="#ededed"/><stop offset="0.7767" stop-color="#e3e3e3"/><stop offset="0.7961" stop-color="#d4d4d4"/><stop offset="0.8129" stop-color="#c2c2c2"/><stop offset="0.8300" stop-color="#aaaaaa"/><stop offset="0.8491" stop-color="#949494"/><stop offset="0.8646" stop-color="#7a7a7a"/><stop offset="0.8760" stop-color="#575757"/><stop offset="0.8840" stop-color="#3d3d3d"/><stop offset="0.8930" stop-color="#262626"/><stop offset="0.9015" stop-color="#141414"/><stop offset="0.9137" stop-color="#0a0a0a"/><stop offset="0.9395" stop-color="#080808"/><stop offset="0.9514" stop-color="#0b0b0b"/><stop offset="0.9628" stop-color="#121212"/><stop offset="0.9747" stop-color="#1f1f1f"/><stop offset="0.9809" stop-color="#2b2b2b"/><stop offset="1.0003" stop-color="#424242"/></linearGradient><radialGradient id="b6_0" gradientUnits="userSpaceOnUse" cx="0" cy="0" r="1" gradientTransform="translate(847.40 848.00) scale(10.00 8.00)"><stop offset="0.00" stop-color="#b8b8b8" stop-opacity="0.600"/><stop offset="0.40" stop-color="#b8b8b8" stop-opacity="0.540"/><stop offset="0.65" stop-color="#b8b8b8" stop-opacity="0.330"/><stop offset="0.85" stop-color="#b8b8b8" stop-opacity="0.108"/><stop offset="1.00" stop-color="#b8b8b8" stop-opacity="0.000"/></radialGradient><radialGradient id="b6_1" gradientUnits="userSpaceOnUse" cx="0" cy="0" r="1" gradientTransform="translate(847.40 860.00) scale(11.00 7.00)"><stop offset="0.00" stop-color="#616161" stop-opacity="0.900"/><stop offset="0.40" stop-color="#616161" stop-opacity="0.810"/><stop offset="0.65" stop-color="#616161" stop-opacity="0.495"/><stop offset="0.85" stop-color="#616161" stop-opacity="0.162"/><stop offset="1.00" stop-color="#616161" stop-opacity="0.000"/></radialGradient><radialGradient id="b6_2" gradientUnits="userSpaceOnUse" cx="0" cy="0" r="1" gradientTransform="translate(847.40 866.50) scale(13.00 7.00)"><stop offset="0.00" stop-color="#000000" stop-opacity="1.000"/><stop offset="0.40" stop-color="#000000" stop-opacity="0.900"/><stop offset="0.65" stop-color="#000000" stop-opacity="0.550"/><stop offset="0.85" stop-color="#000000" stop-opacity="0.180"/><stop offset="1.00" stop-color="#000000" stop-opacity="0.000"/></radialGradient><clipPath id="c6"><rect x="823.20" y="524.45" width="48.40" height="386.95"/></clipPath></defs>
<g filter="url(#jet)"><g clip-path="url(#c6)">
<rect x="823.20" y="524.45" width="48.40" height="386.95" fill="url(#g6)"/>
<ellipse cx="847.40" cy="848.00" rx="10.00" ry="8.00" fill="url(#b6_0)"/>
<ellipse cx="847.40" cy="860.00" rx="11.00" ry="7.00" fill="url(#b6_1)"/>
<ellipse cx="847.40" cy="866.50" rx="13.00" ry="7.00" fill="url(#b6_2)"/>
</g></g>
<path d="M823.20 863.40 H871.60 M823.20 873.30 H871.60 M823.20 882.90 H871.60 M823.20 892.60 H871.60 M823.20 901.60 H871.60 M835.50 863.40 A11.90 12.70 0 0 1 859.30 863.40" fill="none" stroke="#000" stroke-width="1.1" stroke-opacity="0.72"/>
<rect x="823.20" y="524.45" width="48.40" height="386.95" fill="none" stroke="#000" stroke-width="1.1" stroke-opacity="0.75" rx="1"/>
<g filter="url(#jet)"><rect x="893.05" y="539.50" width="9.80" height="375.70" fill="url(#cbg)"/></g>
<rect x="893.05" y="539.50" width="9.80" height="375.70" fill="none" stroke="#222" stroke-width="0.9" stroke-opacity="0.9"/>
<text x="907.15" y="583.75" class="cb">200</text>
<text x="907.15" y="645.45" class="cb">100</text>
<text x="907.15" y="707.15" class="cb">0</text>
<text x="907.15" y="768.85" class="cb">-100</text>
<text x="907.15" y="830.55" class="cb">-200</text>
<text x="907.15" y="892.25" class="cb">-300</text>
<path d="M893.05 577.40 h1.6 M902.85 577.40 h-1.6 M893.05 639.10 h1.6 M902.85 639.10 h-1.6 M893.05 700.80 h1.6 M902.85 700.80 h-1.6 M893.05 762.50 h1.6 M902.85 762.50 h-1.6 M893.05 824.20 h1.6 M902.85 824.20 h-1.6 M893.05 885.90 h1.6 M902.85 885.90 h-1.6" stroke="#111" stroke-width="1" fill="none"/>
<text class="pn" x="848.8" y="956.2" text-anchor="middle">7</text>
</g>
</svg></body></html>
